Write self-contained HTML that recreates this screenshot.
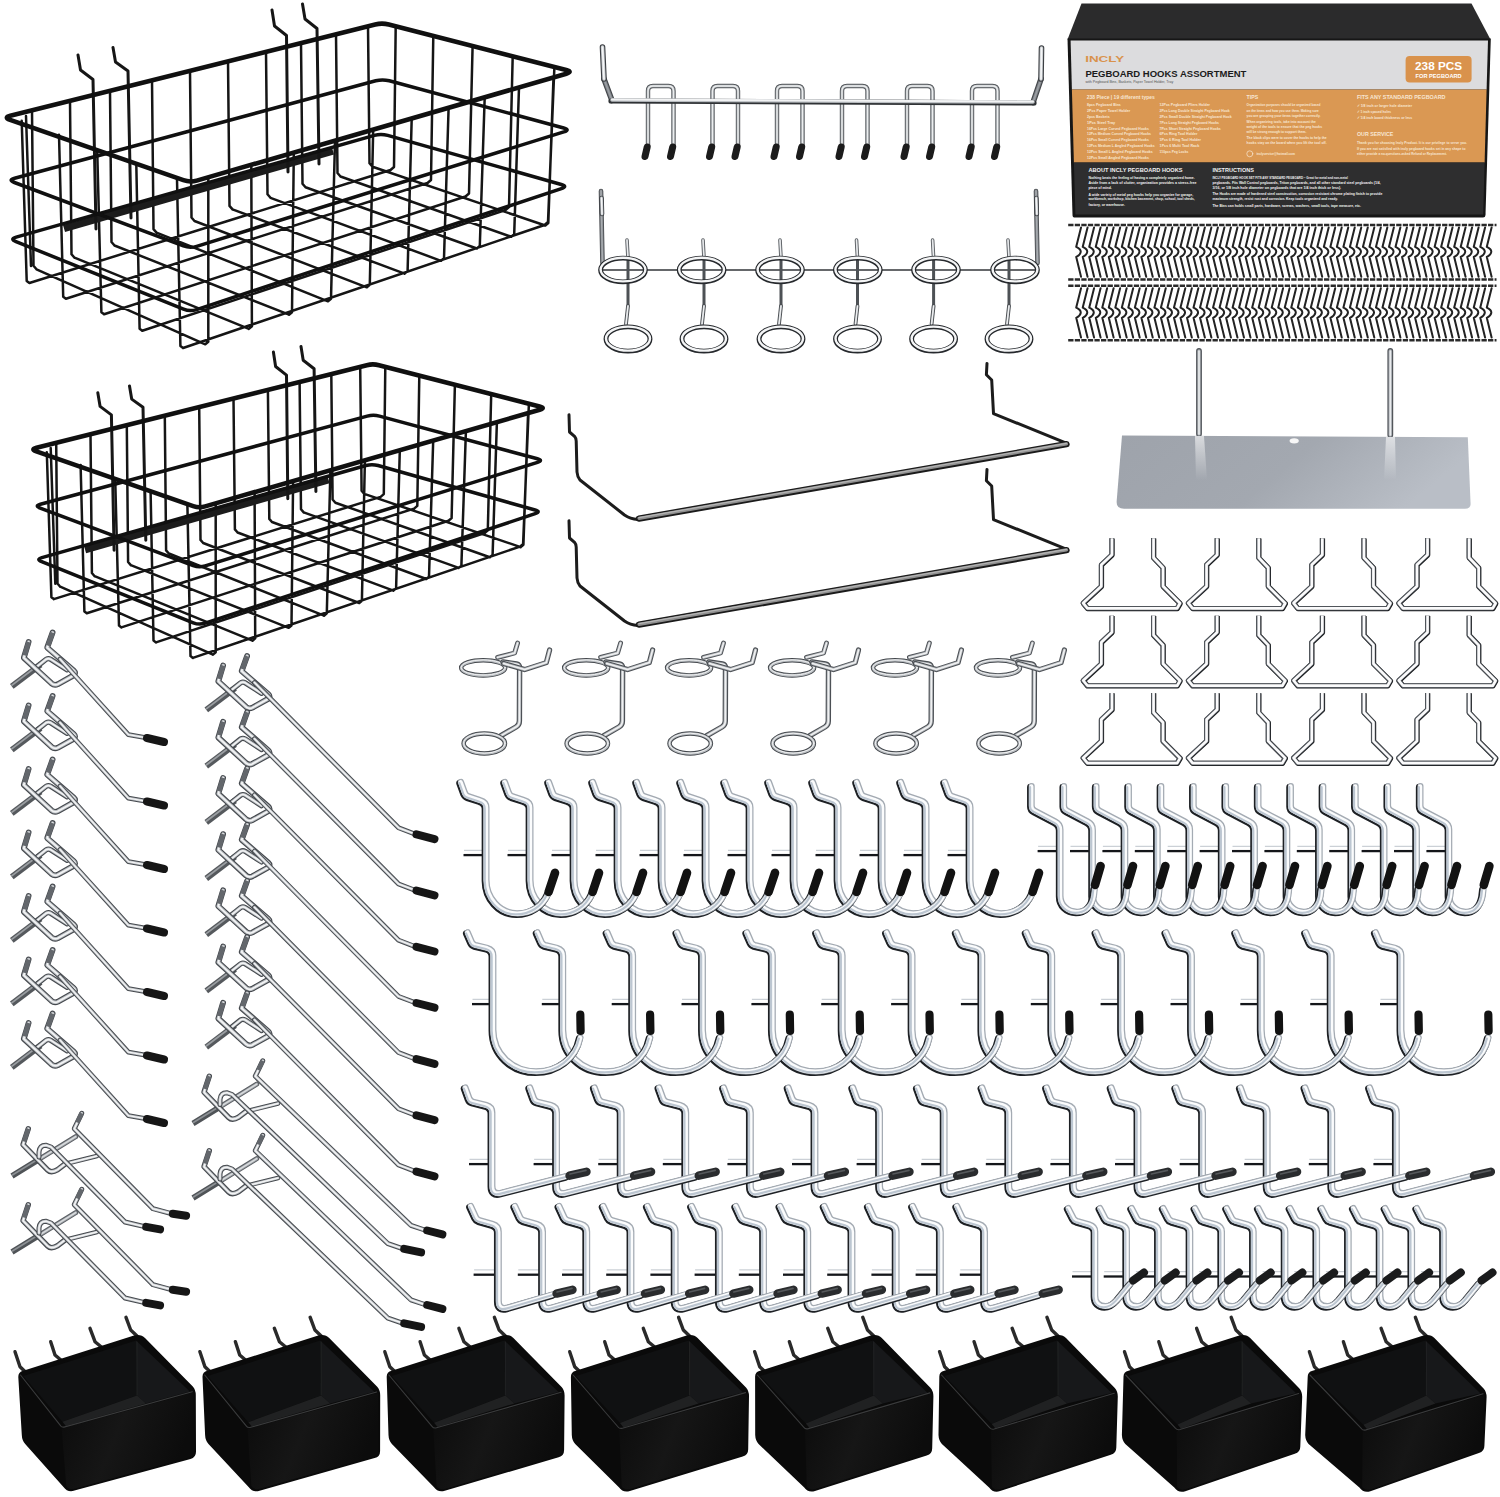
<!DOCTYPE html>
<html lang="en"><head><meta charset="utf-8"><title>Pegboard Hooks Assortment</title>
<style>html,body{margin:0;padding:0;background:#fff}svg{display:block}text{font-family:"Liberation Sans",sans-serif}</style></head>
<body>
<svg width="1500" height="1497" viewBox="0 0 1500 1497" fill="none" stroke-linecap="round" stroke-linejoin="round">
<rect width="1500" height="1497" fill="#fff"/>
<defs>
<linearGradient id="trayg" x1="0" y1="0" x2="1" y2="0.25"><stop offset="0" stop-color="#9ea3ab"/><stop offset="0.55" stop-color="#a3a8b0"/><stop offset="1" stop-color="#b9bec6"/></linearGradient>
<linearGradient id="glow" x1="0" y1="0" x2="0" y2="1"><stop offset="0" stop-color="#fff" stop-opacity="0.6"/><stop offset="1" stop-color="#fff" stop-opacity="0"/></linearGradient>
<g id="plier" stroke-linecap="butt"><path d="M1112.1 538.5 L1112.1 555.1 L1101.5 565.1 L1101.5 586.6 L1083.3 603.4 L1087.6 608.6 L1177.3 608.6 L1180.2 603.6 L1163.2 586.6 L1163.2 568 L1153.7 558 L1153.7 538.5" stroke="#15171a" stroke-width="5.2"/><path d="M1112.1 538.5 L1112.1 555.1 L1101.5 565.1 L1101.5 586.6 L1083.3 603.4 L1087.6 608.6 L1177.3 608.6 L1180.2 603.6 L1163.2 586.6 L1163.2 568 L1153.7 558 L1153.7 538.5" stroke="#50555b" stroke-width="4.6" transform="translate(-0.4,-0.4)"/><path d="M1112.1 538.5 L1112.1 555.1 L1101.5 565.1 L1101.5 586.6 L1083.3 603.4 L1087.6 608.6 L1177.3 608.6 L1180.2 603.6 L1163.2 586.6 L1163.2 568 L1153.7 558 L1153.7 538.5" stroke="#fbfbfc" stroke-width="2.7" transform="translate(-0.15,-0.3)"/></g>
<g id="ringh"><path d="M497.6 657.4 L514.6 653 L517.6 643" stroke="#4b4f54" stroke-width="4.8" /><path d="M497.6 657.4 L514.6 653 L517.6 643" stroke="#b0b4b8" stroke-width="2.9" /><path d="M497.6 657.4 L514.6 653 L517.6 643" stroke="#f0f1f2" stroke-width="1.4" /><ellipse cx="483.2" cy="667.8" rx="22" ry="7.6" stroke="#45494e" stroke-width="4.5"/><ellipse cx="483.2" cy="667.8" rx="22" ry="7.6" stroke="#b9bdc1" stroke-width="2.6"/><ellipse cx="483.2" cy="667.5" rx="22" ry="7.6" stroke="#f1f2f3" stroke-width="1"/><path d="M503 662 L516.5 664 Q519.6 664.6 519.6 668 L519.4 721 Q519.4 725 516 727 L501 735.6" stroke="#4b4f54" stroke-width="5.4" /><path d="M503 662 L516.5 664 Q519.6 664.6 519.6 668 L519.4 721 Q519.4 725 516 727 L501 735.6" stroke="#b0b4b8" stroke-width="3.2" /><path d="M503 662 L516.5 664 Q519.6 664.6 519.6 668 L519.4 721 Q519.4 725 516 727 L501 735.6" stroke="#f0f1f2" stroke-width="1.6" /><path d="M503.7 663.5 L524.6 669.6 L546.3 662.6 L549.6 650" stroke="#4b4f54" stroke-width="5.2" /><path d="M503.7 663.5 L524.6 669.6 L546.3 662.6 L549.6 650" stroke="#b0b4b8" stroke-width="3.1" /><path d="M503.7 663.5 L524.6 669.6 L546.3 662.6 L549.6 650" stroke="#f0f1f2" stroke-width="1.6" /><ellipse cx="484.3" cy="743.5" rx="20.7" ry="10" stroke="#45494e" stroke-width="4.5"/><ellipse cx="484.3" cy="743.5" rx="20.7" ry="10" stroke="#b9bdc1" stroke-width="2.6"/><ellipse cx="484.3" cy="743.2" rx="20.7" ry="10" stroke="#f1f2f3" stroke-width="1"/></g>
<g id="brk"><path d="M40.6 664.6 L11.8 686.4" stroke="#55595d" stroke-width="6" stroke-linecap="butt"/><path d="M40.2 663.8 L11.4 685.6" stroke="#9a9ea2" stroke-width="1.8" stroke-linecap="butt"/><path d="M37.2 666.4 L46.2 659.2 Q48.5 658 50.6 659.2 L67 669.8" stroke="#45494e" stroke-width="5.2" /><path d="M37.2 666.4 L46.2 659.2 Q48.5 658 50.6 659.2 L67 669.8" stroke="#b9bdc1" stroke-width="3.1" /><path d="M37.2 666.4 L46.2 659.2 Q48.5 658 50.6 659.2 L67 669.8" stroke="#f3f4f5" stroke-width="1.6" /><path d="M28.6 642 L23.8 657.8 L51.6 683.4 Q54.5 685.8 57.8 684.2 L73.6 675.4 Q76.5 673 73.8 670.6 L47.2 647.6 L52.6 632.6" stroke="#45494e" stroke-width="5.8" /><path d="M28.6 642 L23.8 657.8 L51.6 683.4 Q54.5 685.8 57.8 684.2 L73.6 675.4 Q76.5 673 73.8 670.6 L47.2 647.6 L52.6 632.6" stroke="#b9bdc1" stroke-width="3.5" /><path d="M28.6 642 L23.8 657.8 L51.6 683.4 Q54.5 685.8 57.8 684.2 L73.6 675.4 Q76.5 673 73.8 670.6 L47.2 647.6 L52.6 632.6" stroke="#f3f4f5" stroke-width="1.7" /><path d="M28.6 642 L24.6 655.4" stroke="#63676c" stroke-width="4.8" stroke-linecap="butt"/><path d="M52.6 632.6 L48 645.6" stroke="#63676c" stroke-width="4.8" stroke-linecap="butt"/></g>
<g id="hs"><use href="#brk"/><path d="M60 659 L128.4 734.6 L144 737.4" stroke="#45494e" stroke-width="4.8" /><path d="M60 659 L128.4 734.6 L144 737.4" stroke="#b9bdc1" stroke-width="2.9" /><path d="M60 659 L128.4 734.6 L144 737.4" stroke="#f3f4f5" stroke-width="1.4" /><path d="M147 738 L164 742" stroke="#161616" stroke-width="8"/></g>
<g id="hl"><use href="#brk" x="194.5" y="22"/><path d="M254.5 681 L398.6 826.3 L413.5 832" stroke="#45494e" stroke-width="4.8" /><path d="M254.5 681 L398.6 826.3 L413.5 832" stroke="#b9bdc1" stroke-width="2.9" /><path d="M254.5 681 L398.6 826.3 L413.5 832" stroke="#f3f4f5" stroke-width="1.4" /><path d="M416.5 832.9 L434.5 837.6" stroke="#161616" stroke-width="8"/></g>
<g id="ds"><path d="M36 1161.2 L75.7 1136.7" stroke="#5b5f64" stroke-width="5" /><path d="M36 1161.2 L75.7 1136.7" stroke="#9fa3a8" stroke-width="3" /><path d="M36 1161.2 L75.7 1136.7" stroke="#d9dcde" stroke-width="1.5" /><path d="M12 1176 L38 1160" stroke="#4f5357" stroke-width="5.8" stroke-linecap="butt"/><path d="M12 1175.2 L38 1159.2" stroke="#8c9094" stroke-width="1.6" stroke-linecap="butt"/><path d="M67.7 1163.3 L97 1156" stroke="#45494e" stroke-width="4.6" /><path d="M67.7 1163.3 L97 1156" stroke="#b9bdc1" stroke-width="2.8" /><path d="M67.7 1163.3 L97 1156" stroke="#f3f4f5" stroke-width="1.4" /><path d="M28.3 1128.7 L23 1144.7 L47.7 1170 Q51.2 1173.5 57.7 1169.6 L65 1164" stroke="#45494e" stroke-width="5.4" /><path d="M28.3 1128.7 L23 1144.7 L47.7 1170 Q51.2 1173.5 57.7 1169.6 L65 1164" stroke="#b9bdc1" stroke-width="3.2" /><path d="M28.3 1128.7 L23 1144.7 L47.7 1170 Q51.2 1173.5 57.7 1169.6 L65 1164" stroke="#f3f4f5" stroke-width="1.6" /><path d="M28.3 1128.7 L24 1141.5" stroke="#63676c" stroke-width="4.6" stroke-linecap="butt"/><path d="M39 1157 L39 1152 Q39.7 1145 46.3 1145.3 L51 1147 L125 1222 L143.7 1226.4" stroke="#45494e" stroke-width="5" /><path d="M39 1157 L39 1152 Q39.7 1145 46.3 1145.3 L51 1147 L125 1222 L143.7 1226.4" stroke="#b9bdc1" stroke-width="3" /><path d="M39 1157 L39 1152 Q39.7 1145 46.3 1145.3 L51 1147 L125 1222 L143.7 1226.4" stroke="#f3f4f5" stroke-width="1.5" /><path d="M146.2 1226.9 L160.1 1229.4" stroke="#161616" stroke-width="8"/><path d="M81.7 1113.3 L74.3 1128.7 L153 1208.7 L170.3 1213.3" stroke="#45494e" stroke-width="5" /><path d="M81.7 1113.3 L74.3 1128.7 L153 1208.7 L170.3 1213.3" stroke="#b9bdc1" stroke-width="3" /><path d="M81.7 1113.3 L74.3 1128.7 L153 1208.7 L170.3 1213.3" stroke="#f3f4f5" stroke-width="1.5" /><path d="M81.7 1113.3 L77.3 1122.5" stroke="#63676c" stroke-width="4.4" stroke-linecap="butt"/><path d="M172.8 1213.8 L186.1 1215.7" stroke="#161616" stroke-width="8"/></g>
<g id="dl"><path d="M217 1108.7 L256.7 1084.2" stroke="#5b5f64" stroke-width="5" /><path d="M217 1108.7 L256.7 1084.2" stroke="#9fa3a8" stroke-width="3" /><path d="M217 1108.7 L256.7 1084.2" stroke="#d9dcde" stroke-width="1.5" /><path d="M193 1123.5 L219 1107.5" stroke="#4f5357" stroke-width="5.8" stroke-linecap="butt"/><path d="M193 1122.7 L219 1106.7" stroke="#8c9094" stroke-width="1.6" stroke-linecap="butt"/><path d="M248.7 1110.8 L278 1103.5" stroke="#45494e" stroke-width="4.6" /><path d="M248.7 1110.8 L278 1103.5" stroke="#b9bdc1" stroke-width="2.8" /><path d="M248.7 1110.8 L278 1103.5" stroke="#f3f4f5" stroke-width="1.4" /><path d="M209.3 1076.2 L204 1092.2 L228.7 1117.5 Q232.2 1121 238.7 1117.1 L246 1111.5" stroke="#45494e" stroke-width="5.4" /><path d="M209.3 1076.2 L204 1092.2 L228.7 1117.5 Q232.2 1121 238.7 1117.1 L246 1111.5" stroke="#b9bdc1" stroke-width="3.2" /><path d="M209.3 1076.2 L204 1092.2 L228.7 1117.5 Q232.2 1121 238.7 1117.1 L246 1111.5" stroke="#f3f4f5" stroke-width="1.6" /><path d="M209.3 1076.2 L205 1089" stroke="#63676c" stroke-width="4.6" stroke-linecap="butt"/><path d="M220 1104.5 L220 1099.5 Q220.7 1092.5 227.3 1092.8 L232 1094.5 L388 1243.7 L401.7 1248.3" stroke="#45494e" stroke-width="5" /><path d="M220 1104.5 L220 1099.5 Q220.7 1092.5 227.3 1092.8 L232 1094.5 L388 1243.7 L401.7 1248.3" stroke="#b9bdc1" stroke-width="3" /><path d="M220 1104.5 L220 1099.5 Q220.7 1092.5 227.3 1092.8 L232 1094.5 L388 1243.7 L401.7 1248.3" stroke="#f3f4f5" stroke-width="1.5" /><path d="M404.2 1248.8 L421.1 1252.4" stroke="#161616" stroke-width="8"/><path d="M262.7 1060.8 L255.3 1076.2 L410.9 1225.3 L424.7 1230" stroke="#45494e" stroke-width="5" /><path d="M262.7 1060.8 L255.3 1076.2 L410.9 1225.3 L424.7 1230" stroke="#b9bdc1" stroke-width="3" /><path d="M262.7 1060.8 L255.3 1076.2 L410.9 1225.3 L424.7 1230" stroke="#f3f4f5" stroke-width="1.5" /><path d="M262.7 1060.8 L258.3 1070" stroke="#63676c" stroke-width="4.4" stroke-linecap="butt"/><path d="M427.2 1230.5 L442.4 1234.4" stroke="#161616" stroke-width="8"/></g>
<g id="mc"><path d="M463.5 855.1 L483 855.1" stroke="#14161a" stroke-width="2.3" stroke-linecap="butt"/><path d="M464 850.3 L483 850.3" stroke="#bfc5cc" stroke-width="1" stroke-linecap="butt"/><path d="M460.5 782.5 L464.5 793.5 Q465.5 796 468 796.8 L480 800.8 Q485.9 802.5 485.9 808 L485.9 880.2 C485.9 898 499 913.8 517.1 913.8 C531 913.8 543 906 548.2 893.4" stroke="#1d2024" stroke-width="7.1" transform="translate(-0.7,0.7)"/><path d="M460.5 782.5 L464.5 793.5 Q465.5 796 468 796.8 L480 800.8 Q485.9 802.5 485.9 808 L485.9 880.2 C485.9 898 499 913.8 517.1 913.8 C531 913.8 543 906 548.2 893.4" stroke="#a4abb3" stroke-width="6.2" transform="translate(0.5,-0.5)"/><path d="M460.5 782.5 L464.5 793.5 Q465.5 796 468 796.8 L480 800.8 Q485.9 802.5 485.9 808 L485.9 880.2 C485.9 898 499 913.8 517.1 913.8 C531 913.8 543 906 548.2 893.4" stroke="#fbfcfd" stroke-width="4.5" transform="translate(0.1,-0.1)"/><path d="M460.5 782.5 L464.5 793.5 Q465.5 796 468 796.8 L480 800.8 Q485.9 802.5 485.9 808 L485.9 880.2 C485.9 898 499 913.8 517.1 913.8 C531 913.8 543 906 548.2 893.4" stroke="#bcc6d1" stroke-width="2.2" transform="translate(-1.15,0.65)"/><path d="M548.6 892 L555 872.8" stroke="#121212" stroke-width="8.6"/></g>
<g id="sc"><path d="M1037.6 851.1 L1057.5 851.1" stroke="#14161a" stroke-width="2.3" stroke-linecap="butt"/><path d="M1038.1 846.3 L1057.5 846.3" stroke="#bfc5cc" stroke-width="1" stroke-linecap="butt"/><path d="M1031.2 786.5 L1031.2 806 Q1031.2 809.5 1034.5 811.2 L1055 822 Q1060 824.5 1060 830 L1060 896 C1060 905 1067 912.2 1076.6 912.2 C1086 912.2 1091.8 906 1093.6 896 L1094.4 889" stroke="#1d2024" stroke-width="6.9" transform="translate(-0.7,0.7)"/><path d="M1031.2 786.5 L1031.2 806 Q1031.2 809.5 1034.5 811.2 L1055 822 Q1060 824.5 1060 830 L1060 896 C1060 905 1067 912.2 1076.6 912.2 C1086 912.2 1091.8 906 1093.6 896 L1094.4 889" stroke="#a4abb3" stroke-width="6" transform="translate(0.5,-0.5)"/><path d="M1031.2 786.5 L1031.2 806 Q1031.2 809.5 1034.5 811.2 L1055 822 Q1060 824.5 1060 830 L1060 896 C1060 905 1067 912.2 1076.6 912.2 C1086 912.2 1091.8 906 1093.6 896 L1094.4 889" stroke="#fbfcfd" stroke-width="4.3" transform="translate(0.1,-0.1)"/><path d="M1031.2 786.5 L1031.2 806 Q1031.2 809.5 1034.5 811.2 L1055 822 Q1060 824.5 1060 830 L1060 896 C1060 905 1067 912.2 1076.6 912.2 C1086 912.2 1091.8 906 1093.6 896 L1094.4 889" stroke="#bcc6d1" stroke-width="2.2" transform="translate(-1.15,0.65)"/><path d="M1095 885 L1100.6 866" stroke="#121212" stroke-width="8.6"/></g>
<g id="lc"><path d="M472 1004.1 L490 1004.1" stroke="#14161a" stroke-width="2.3" stroke-linecap="butt"/><path d="M472.5 999.3 L490 999.3" stroke="#bfc5cc" stroke-width="1" stroke-linecap="butt"/><path d="M467.2 932.8 L471.4 942.5 Q472.4 944.8 475 945.5 L487 948.4 Q492.8 950 492.8 956 L492.8 1030 C492.8 1054 512 1071.8 536 1071.8 C558 1071.8 576 1058 580 1038" stroke="#1d2024" stroke-width="7.1" transform="translate(-0.7,0.7)"/><path d="M467.2 932.8 L471.4 942.5 Q472.4 944.8 475 945.5 L487 948.4 Q492.8 950 492.8 956 L492.8 1030 C492.8 1054 512 1071.8 536 1071.8 C558 1071.8 576 1058 580 1038" stroke="#a4abb3" stroke-width="6.2" transform="translate(0.5,-0.5)"/><path d="M467.2 932.8 L471.4 942.5 Q472.4 944.8 475 945.5 L487 948.4 Q492.8 950 492.8 956 L492.8 1030 C492.8 1054 512 1071.8 536 1071.8 C558 1071.8 576 1058 580 1038" stroke="#fbfcfd" stroke-width="4.5" transform="translate(0.1,-0.1)"/><path d="M467.2 932.8 L471.4 942.5 Q472.4 944.8 475 945.5 L487 948.4 Q492.8 950 492.8 956 L492.8 1030 C492.8 1054 512 1071.8 536 1071.8 C558 1071.8 576 1058 580 1038" stroke="#bcc6d1" stroke-width="2.2" transform="translate(-1.15,0.65)"/><path d="M580.6 1031 L580.3 1014.5" stroke="#121212" stroke-width="8.2"/></g>
<g id="lm"><path d="M469 1164.1 L489 1164.1" stroke="#14161a" stroke-width="2.3" stroke-linecap="butt"/><path d="M469.5 1159.3 L489 1159.3" stroke="#bfc5cc" stroke-width="1" stroke-linecap="butt"/><path d="M465 1088 L469 1099 Q470 1101.5 472.6 1102.2 L486 1105.6 Q491.8 1107.2 491.8 1113 L491.8 1186 Q491.8 1195.5 501 1193.2 L566 1176.6" stroke="#1d2024" stroke-width="7.1" transform="translate(-0.7,0.7)"/><path d="M465 1088 L469 1099 Q470 1101.5 472.6 1102.2 L486 1105.6 Q491.8 1107.2 491.8 1113 L491.8 1186 Q491.8 1195.5 501 1193.2 L566 1176.6" stroke="#a4abb3" stroke-width="6.2" transform="translate(0.5,-0.5)"/><path d="M465 1088 L469 1099 Q470 1101.5 472.6 1102.2 L486 1105.6 Q491.8 1107.2 491.8 1113 L491.8 1186 Q491.8 1195.5 501 1193.2 L566 1176.6" stroke="#fbfcfd" stroke-width="4.5" transform="translate(0.1,-0.1)"/><path d="M465 1088 L469 1099 Q470 1101.5 472.6 1102.2 L486 1105.6 Q491.8 1107.2 491.8 1113 L491.8 1186 Q491.8 1195.5 501 1193.2 L566 1176.6" stroke="#bcc6d1" stroke-width="2.2" transform="translate(-1.15,0.65)"/><path d="M569.5 1175.7 L586.5 1171.8" stroke="#2a2c2e" stroke-width="8.4"/><path d="M570 1174 L586 1170.4" stroke="#55585b" stroke-width="1.6"/></g>
<g id="ls"><path d="M473.6 1274.7 L495 1274.7" stroke="#14161a" stroke-width="2.3" stroke-linecap="butt"/><path d="M474.1 1269.9 L495 1269.9" stroke="#bfc5cc" stroke-width="1" stroke-linecap="butt"/><path d="M470.4 1206.5 L475.6 1217.8 Q476.6 1220 479.2 1220.8 L492.4 1224.6 Q498.2 1226.4 498.2 1232 L498.2 1301 Q498.2 1310.5 507.4 1308 L553 1294.6" stroke="#1d2024" stroke-width="7.1" transform="translate(-0.7,0.7)"/><path d="M470.4 1206.5 L475.6 1217.8 Q476.6 1220 479.2 1220.8 L492.4 1224.6 Q498.2 1226.4 498.2 1232 L498.2 1301 Q498.2 1310.5 507.4 1308 L553 1294.6" stroke="#a4abb3" stroke-width="6.2" transform="translate(0.5,-0.5)"/><path d="M470.4 1206.5 L475.6 1217.8 Q476.6 1220 479.2 1220.8 L492.4 1224.6 Q498.2 1226.4 498.2 1232 L498.2 1301 Q498.2 1310.5 507.4 1308 L553 1294.6" stroke="#fbfcfd" stroke-width="4.5" transform="translate(0.1,-0.1)"/><path d="M470.4 1206.5 L475.6 1217.8 Q476.6 1220 479.2 1220.8 L492.4 1224.6 Q498.2 1226.4 498.2 1232 L498.2 1301 Q498.2 1310.5 507.4 1308 L553 1294.6" stroke="#bcc6d1" stroke-width="2.2" transform="translate(-1.15,0.65)"/><path d="M556.5 1293.6 L572.5 1289.8" stroke="#2a2c2e" stroke-width="8.4"/><path d="M557 1292 L572 1288.4" stroke="#55585b" stroke-width="1.6"/></g>
<g id="sa"><path d="M1072 1276.5 L1093 1276.5" stroke="#14161a" stroke-width="2.3" stroke-linecap="butt"/><path d="M1072.5 1271.7 L1093 1271.7" stroke="#bfc5cc" stroke-width="1" stroke-linecap="butt"/><path d="M1068 1208.5 L1073.2 1218.6 Q1074.2 1220.6 1076.6 1221.4 L1089 1225 Q1094.8 1226.8 1094.8 1232 L1094.8 1296 C1094.8 1303 1099 1306.6 1105 1306.6 C1110.5 1306.6 1113.5 1304 1117 1300 L1130.5 1283.6" stroke="#1d2024" stroke-width="6.9" transform="translate(-0.7,0.7)"/><path d="M1068 1208.5 L1073.2 1218.6 Q1074.2 1220.6 1076.6 1221.4 L1089 1225 Q1094.8 1226.8 1094.8 1232 L1094.8 1296 C1094.8 1303 1099 1306.6 1105 1306.6 C1110.5 1306.6 1113.5 1304 1117 1300 L1130.5 1283.6" stroke="#a4abb3" stroke-width="6" transform="translate(0.5,-0.5)"/><path d="M1068 1208.5 L1073.2 1218.6 Q1074.2 1220.6 1076.6 1221.4 L1089 1225 Q1094.8 1226.8 1094.8 1232 L1094.8 1296 C1094.8 1303 1099 1306.6 1105 1306.6 C1110.5 1306.6 1113.5 1304 1117 1300 L1130.5 1283.6" stroke="#fbfcfd" stroke-width="4.3" transform="translate(0.1,-0.1)"/><path d="M1068 1208.5 L1073.2 1218.6 Q1074.2 1220.6 1076.6 1221.4 L1089 1225 Q1094.8 1226.8 1094.8 1232 L1094.8 1296 C1094.8 1303 1099 1306.6 1105 1306.6 C1110.5 1306.6 1113.5 1304 1117 1300 L1130.5 1283.6" stroke="#bcc6d1" stroke-width="2.2" transform="translate(-1.15,0.65)"/><path d="M1133 1280.6 L1144 1272.6" stroke="#1a1b1c" stroke-width="8"/></g>
<linearGradient id="binf" x1="0" y1="0" x2="1" y2="0.3"><stop offset="0" stop-color="#0b0b0b"/><stop offset="0.5" stop-color="#161616"/><stop offset="1" stop-color="#0c0c0c"/></linearGradient>
</defs>
<g><path d="M32 110.4 L33.5 265.8 L36.5 269.3 M70 100.9 L71.5 254.2 L74.5 257.7 M110 90.9 L111.5 242 L114.5 245.5 M152 80.3 L153.5 229.1 L156.5 232.6 M190 70.8 L191.5 217.5 L194.5 221 M228 61.3 L229.5 205.9 L232.5 209.4 M266 51.8 L267.5 194.3 L270.5 197.8 M301 43.1 L302.5 183.7 L305.5 187.2 M336 34.3 L337.5 173 L340.5 176.5 M368 26.3 L369.5 163.2 L372.5 166.7 M395.7 26.3 L394 167 L390.5 170 M433.3 36 L431 180 L427.5 183 M472.6 46 L469 193.5 L465.5 196.5 M512.7 56.3 L509 207 L505.5 210 M554.4 67 L548 222 L544.5 225 M29.4 283 L390.5 170 M65.9 298.7 L427.5 183 M104.1 314.3 L465.5 196.5 M142.3 330.8 L505.5 210 M183.1 348 L544.5 225 M205.3 344.3 L36.5 269.3 M248.9 328.9 L74.5 257.7 M289 314.7 L114.5 245.5 M328 301.3 L156.5 232.6 M366.8 287.3 L194.5 221 M404.6 273.6 L232.5 209.4 M441 260.8 L270.5 197.8 M476.8 248.5 L305.5 187.2 M511.2 236.8 L340.5 176.5 M545.3 225.5 L372.5 166.7 M21.7 120.8 L26.7 281 L29.4 283 M59 134.7 L63.2 296.7 L65.9 298.7 M97.2 150.3 L101.4 312.3 L104.1 314.3 M136.3 164.2 L139.6 328.8 L142.3 330.8 M177 179 L180.4 346 L183.1 348 M208.3 177.2 L208.3 341.8 L205.3 344.3 M251.3 164.8 L251.9 326.4 L248.9 328.9 M293.8 152.5 L292 312.2 L289 314.7 M335 140.6 L331 298.8 L328 301.3 M373.2 129.5 L369.8 284.8 L366.8 287.3 M411.7 118.4 L407.6 271.1 L404.6 273.6 M448.6 107.8 L444 258.3 L441 260.8 M484.7 97.3 L479.8 246 L476.8 248.5 M519 87.4 L514.2 234.3 L511.2 236.8 M553.5 77.4 L548.3 223 L545.3 225.5 M26 116 L31 266" stroke="#151515" stroke-width="2.5" fill="none" stroke-linejoin="round"/><path d="M64 228.5 L333 151" stroke="#1c1c1c" stroke-width="7.4" fill="none" stroke-linecap="butt"/><path d="M78 55 L80.5 70 L93 79.5 L96 229 M113 47.5 L115.5 62 L128 71 L131 218 M272 10 L274.5 26 L286.5 35.5 L288 172 M302.5 4 L305 19 L317 28.5 L319 164" stroke="#161616" stroke-width="3" fill="none" stroke-linejoin="round" stroke-linecap="round"/><path d="M16 241.6 Q9.5 239 16.2 237.1L374.3 135.4 Q381 133.5 387.7 135.4L561.3 184.5 Q568 186.4 561.4 188.6L196.6 309.6 Q190 311.8 183.5 309.2Z" stroke="#101010" stroke-width="3.5" fill="none" stroke-linejoin="round"/><path d="M14.4 182.5 Q7.8 180 14.6 178.2L375.7 80.8 Q382.5 79 389.3 80.8L563.7 128 Q570.5 129.8 563.8 131.9L196.7 246.3 Q190 248.4 183.4 245.9Z" stroke="#101010" stroke-width="3.5" fill="none" stroke-linejoin="round"/><path d="M10.1 119.8 Q3.5 117.5 10.3 115.8L375.2 24.5 Q382 22.8 388.8 24.5L566.2 70.1 Q573 71.8 566.3 73.7L196.7 180.6 Q190 182.5 183.4 180.2Z" stroke="#101010" stroke-width="4.6" fill="none" stroke-linejoin="round"/></g>
<g><path d="M56.2 442.9 L57.5 583.5 L60.2 586.7 M90.5 434.3 L91.9 573 L94.6 576.2 M126.8 425.2 L128.1 562 L130.8 565.1 M164.8 415.7 L166.1 550.4 L168.8 553.5 M199.2 407.1 L200.5 539.9 L203.2 543 M233.5 398.5 L234.9 529.4 L237.6 532.5 M267.9 389.9 L269.3 518.9 L272 522 M299.6 382 L301 509.2 L303.7 512.4 M331.3 374 L332.6 499.5 L335.4 502.7 M360.2 366.8 L361.6 490.7 L364.3 493.9 M385.3 366.8 L383.8 494.1 L380.6 496.9 M419.3 375.5 L417.3 505.9 L414.1 508.6 M454.9 384.7 L451.6 518.1 L448.5 520.8 M491.2 394 L487.8 530.3 L484.7 533 M528.9 403.7 L523.1 543.9 L520 546.6 M53.8 599.1 L380.6 496.9 M86.8 613.3 L414.1 508.6 M121.4 627.4 L448.5 520.8 M156 642.4 L484.7 533 M192.9 657.9 L520 546.6 M213 654.6 L60.2 586.7 M252.5 640.7 L94.6 576.2 M288.7 627.8 L130.8 565.1 M324 615.7 L168.8 553.5 M359.2 603 L203.2 543 M393.4 590.6 L237.6 532.5 M426.3 579 L272 522 M458.7 567.9 L303.7 512.4 M489.8 557.3 L335.4 502.7 M520.7 547.1 L364.3 493.9 M46.8 452.3 L51.4 597.3 L53.8 599.1 M80.6 464.9 L84.4 611.5 L86.8 613.3 M115.2 479 L119 625.6 L121.4 627.4 M150.6 491.6 L153.5 640.6 L156 642.4 M187.4 505 L190.5 656.1 L192.9 657.9 M215.7 503.4 L215.7 652.3 L213 654.6 M254.6 492.1 L255.2 638.4 L252.5 640.7 M293.1 481 L291.5 625.5 L288.7 627.8 M330.4 470.2 L326.8 613.4 L324 615.7 M364.9 460.2 L361.9 600.7 L359.2 603 M399.8 450.2 L396.1 588.3 L393.4 590.6 M433.2 440.5 L429 576.8 L426.3 579 M465.9 431.1 L461.4 565.6 L458.7 567.9 M496.9 422.1 L492.6 555 L489.8 557.3 M528.1 413.1 L523.4 544.8 L520.7 547.1 M50.7 448 L55.3 583.7" stroke="#151515" stroke-width="2.5" fill="none" stroke-linejoin="round"/><path d="M85.1 549.8 L328.6 479.7" stroke="#1c1c1c" stroke-width="7.4" fill="none" stroke-linecap="butt"/><path d="M97.8 392.8 L100.1 406.4 L111.4 414.9 L114.1 550.2 M129.5 386 L131.7 399.1 L143 407.3 L145.8 540.3 M273.4 352.1 L275.6 366.5 L286.5 375.1 L287.8 498.7 M301 346.6 L303.2 360.2 L314.1 368.8 L315.9 491.4" stroke="#161616" stroke-width="3" fill="none" stroke-linejoin="round" stroke-linecap="round"/><path d="M41.7 561.7 Q35.8 559.3 41.9 557.6L365.9 465.5 Q372 463.8 378.1 465.5L535.1 510 Q541.2 511.7 535.2 513.7L205.2 623.2 Q199.2 625.2 193.3 622.8Z" stroke="#101010" stroke-width="3.5" fill="none" stroke-linejoin="round"/><path d="M40.2 508.1 Q34.3 505.9 40.4 504.3L367.2 416.1 Q373.4 414.5 379.5 416.1L537.4 458.8 Q543.5 460.5 537.5 462.4L205.2 565.9 Q199.2 567.8 193.2 565.6Z" stroke="#101010" stroke-width="3.5" fill="none" stroke-linejoin="round"/><path d="M36.3 451.4 Q30.4 449.3 36.5 447.8L366.8 365.2 Q372.9 363.6 379 365.2L539.6 406.4 Q545.8 408 539.7 409.7L205.2 506.4 Q199.2 508.2 193.2 506.1Z" stroke="#101010" stroke-width="4.6" fill="none" stroke-linejoin="round"/></g>
<g><path d="M648 146 L648 91 Q648 86 653 86 L668.5 86 Q673.5 86 673.5 91 L673.5 146" stroke="#54585c" stroke-width="4.4" /><path d="M648 146 L648 91 Q648 86 653 86 L668.5 86 Q673.5 86 673.5 91 L673.5 146" stroke="#aeb2b6" stroke-width="2.6" /><path d="M648 146 L648 91 Q648 86 653 86 L668.5 86 Q673.5 86 673.5 91 L673.5 146" stroke="#eceeef" stroke-width="1.3" /><path d="M712.5 146 L712.5 91 Q712.5 86 717.5 86 L733 86 Q738 86 738 91 L738 146" stroke="#54585c" stroke-width="4.4" /><path d="M712.5 146 L712.5 91 Q712.5 86 717.5 86 L733 86 Q738 86 738 91 L738 146" stroke="#aeb2b6" stroke-width="2.6" /><path d="M712.5 146 L712.5 91 Q712.5 86 717.5 86 L733 86 Q738 86 738 91 L738 146" stroke="#eceeef" stroke-width="1.3" /><path d="M777 146 L777 91 Q777 86 782 86 L797.5 86 Q802.5 86 802.5 91 L802.5 146" stroke="#54585c" stroke-width="4.4" /><path d="M777 146 L777 91 Q777 86 782 86 L797.5 86 Q802.5 86 802.5 91 L802.5 146" stroke="#aeb2b6" stroke-width="2.6" /><path d="M777 146 L777 91 Q777 86 782 86 L797.5 86 Q802.5 86 802.5 91 L802.5 146" stroke="#eceeef" stroke-width="1.3" /><path d="M842 146 L842 91 Q842 86 847 86 L862.5 86 Q867.5 86 867.5 91 L867.5 146" stroke="#54585c" stroke-width="4.4" /><path d="M842 146 L842 91 Q842 86 847 86 L862.5 86 Q867.5 86 867.5 91 L867.5 146" stroke="#aeb2b6" stroke-width="2.6" /><path d="M842 146 L842 91 Q842 86 847 86 L862.5 86 Q867.5 86 867.5 91 L867.5 146" stroke="#eceeef" stroke-width="1.3" /><path d="M907 146 L907 91 Q907 86 912 86 L927.5 86 Q932.5 86 932.5 91 L932.5 146" stroke="#54585c" stroke-width="4.4" /><path d="M907 146 L907 91 Q907 86 912 86 L927.5 86 Q932.5 86 932.5 91 L932.5 146" stroke="#aeb2b6" stroke-width="2.6" /><path d="M907 146 L907 91 Q907 86 912 86 L927.5 86 Q932.5 86 932.5 91 L932.5 146" stroke="#eceeef" stroke-width="1.3" /><path d="M972 146 L972 91 Q972 86 977 86 L992.5 86 Q997.5 86 997.5 91 L997.5 146" stroke="#54585c" stroke-width="4.4" /><path d="M972 146 L972 91 Q972 86 977 86 L992.5 86 Q997.5 86 997.5 91 L997.5 146" stroke="#aeb2b6" stroke-width="2.6" /><path d="M972 146 L972 91 Q972 86 977 86 L992.5 86 Q997.5 86 997.5 91 L997.5 146" stroke="#eceeef" stroke-width="1.3" /><path d="M604 79 L612 100.5" stroke="#44474b" stroke-width="5.6" /><path d="M604 79 L612 100.5" stroke="#7d8186" stroke-width="3.4" /><path d="M604 79 L612 100.5" stroke="#9a9ea3" stroke-width="1.7" /><path d="M1033 102.5 L1041 79" stroke="#44474b" stroke-width="5.6" /><path d="M1033 102.5 L1041 79" stroke="#7d8186" stroke-width="3.4" /><path d="M1033 102.5 L1041 79" stroke="#9a9ea3" stroke-width="1.7" /><path d="M602.5 47 L604 79" stroke="#3c3f43" stroke-width="5.6" /><path d="M602.5 47 L604 79" stroke="#c3c7cb" stroke-width="3.4" /><path d="M602.5 47 L604 79" stroke="#f5f6f7" stroke-width="1.7" /><path d="M1041 79 L1041.5 48" stroke="#3c3f43" stroke-width="5.6" /><path d="M1041 79 L1041.5 48" stroke="#c3c7cb" stroke-width="3.4" /><path d="M1041 79 L1041.5 48" stroke="#f5f6f7" stroke-width="1.7" /><path d="M611 101 L1034 103" stroke="#2f3235" stroke-width="5.2"/><path d="M612 100 L1033 102" stroke="#b9bdc1" stroke-width="3.6"/><path d="M612 99.6 L1033 101.6" stroke="#f2f3f4" stroke-width="2"/><path d="M647.2 147 L645 156.5" stroke="#1b1b1b" stroke-width="7"/><path d="M672.7 147 L670.5 156.5" stroke="#1b1b1b" stroke-width="7"/><path d="M711.7 147 L709.5 156.5" stroke="#1b1b1b" stroke-width="7"/><path d="M737.2 147 L735 156.5" stroke="#1b1b1b" stroke-width="7"/><path d="M776.2 147 L774 156.5" stroke="#1b1b1b" stroke-width="7"/><path d="M801.7 147 L799.5 156.5" stroke="#1b1b1b" stroke-width="7"/><path d="M841.2 147 L839 156.5" stroke="#1b1b1b" stroke-width="7"/><path d="M866.7 147 L864.5 156.5" stroke="#1b1b1b" stroke-width="7"/><path d="M906.2 147 L904 156.5" stroke="#1b1b1b" stroke-width="7"/><path d="M931.7 147 L929.5 156.5" stroke="#1b1b1b" stroke-width="7"/><path d="M971.2 147 L969 156.5" stroke="#1b1b1b" stroke-width="7"/><path d="M996.7 147 L994.5 156.5" stroke="#1b1b1b" stroke-width="7"/></g>
<g><path d="M601 191 L602.5 263" stroke="#4a4d51" stroke-width="4.6" /><path d="M601 191 L602.5 263" stroke="#85898e" stroke-width="2.8" /><path d="M601 191 L602.5 263" stroke="#a9adb1" stroke-width="1.4" /><path d="M1036 191 L1037.5 263" stroke="#4a4d51" stroke-width="4.6" /><path d="M1036 191 L1037.5 263" stroke="#85898e" stroke-width="2.8" /><path d="M1036 191 L1037.5 263" stroke="#a9adb1" stroke-width="1.4" /><path d="M601.5 198 L602 214" stroke="#3c3f43" stroke-width="4.6" /><path d="M601.5 198 L602 214" stroke="#c3c7cb" stroke-width="2.8" /><path d="M601.5 198 L602 214" stroke="#f5f6f7" stroke-width="1.4" /><path d="M1036.3 198 L1036.8 214" stroke="#3c3f43" stroke-width="4.6" /><path d="M1036.3 198 L1036.8 214" stroke="#c3c7cb" stroke-width="2.8" /><path d="M1036.3 198 L1036.8 214" stroke="#f5f6f7" stroke-width="1.4" /><path d="M603 270 L1037 270" stroke="#33363a" stroke-width="1.6"/><path d="M627 240 L628 258" stroke="#5a5e62" stroke-width="3.6" /><path d="M627 240 L628 258" stroke="#c3c7cb" stroke-width="1.8" /><path d="M627 240 L628 258" stroke="#f5f6f7" stroke-width="0.9" /><path d="M628 258 L628 306" stroke="#4d5155" stroke-width="3"/><ellipse cx="623" cy="270" rx="22.4" ry="11.9" stroke="#26292d" stroke-width="4.9"/><ellipse cx="623" cy="269.6" rx="22.4" ry="11.8" stroke="#f4f5f6" stroke-width="2.4"/><path d="M628 306 L626 324" stroke="#4a4e52" stroke-width="3.8" /><path d="M628 306 L626 324" stroke="#c3c7cb" stroke-width="2" /><path d="M628 306 L626 324" stroke="#f5f6f7" stroke-width="1" /><ellipse cx="628" cy="339" rx="22" ry="12.1" stroke="#26292d" stroke-width="4.9"/><ellipse cx="628" cy="338.6" rx="22" ry="12" stroke="#f4f5f6" stroke-width="2.4"/><path d="M703 240 L704 258" stroke="#5a5e62" stroke-width="3.6" /><path d="M703 240 L704 258" stroke="#c3c7cb" stroke-width="1.8" /><path d="M703 240 L704 258" stroke="#f5f6f7" stroke-width="0.9" /><path d="M704 258 L704 306" stroke="#4d5155" stroke-width="3"/><ellipse cx="701.6" cy="270" rx="22.4" ry="11.9" stroke="#26292d" stroke-width="4.9"/><ellipse cx="701.6" cy="269.6" rx="22.4" ry="11.8" stroke="#f4f5f6" stroke-width="2.4"/><path d="M704 306 L702 324" stroke="#4a4e52" stroke-width="3.8" /><path d="M704 306 L702 324" stroke="#c3c7cb" stroke-width="2" /><path d="M704 306 L702 324" stroke="#f5f6f7" stroke-width="1" /><ellipse cx="704" cy="339" rx="22" ry="12.1" stroke="#26292d" stroke-width="4.9"/><ellipse cx="704" cy="338.6" rx="22" ry="12" stroke="#f4f5f6" stroke-width="2.4"/><path d="M780 240 L781 258" stroke="#5a5e62" stroke-width="3.6" /><path d="M780 240 L781 258" stroke="#c3c7cb" stroke-width="1.8" /><path d="M780 240 L781 258" stroke="#f5f6f7" stroke-width="0.9" /><path d="M781 258 L781 306" stroke="#4d5155" stroke-width="3"/><ellipse cx="780" cy="270" rx="22.4" ry="11.9" stroke="#26292d" stroke-width="4.9"/><ellipse cx="780" cy="269.6" rx="22.4" ry="11.8" stroke="#f4f5f6" stroke-width="2.4"/><path d="M781 306 L779 324" stroke="#4a4e52" stroke-width="3.8" /><path d="M781 306 L779 324" stroke="#c3c7cb" stroke-width="2" /><path d="M781 306 L779 324" stroke="#f5f6f7" stroke-width="1" /><ellipse cx="781" cy="339" rx="22" ry="12.1" stroke="#26292d" stroke-width="4.9"/><ellipse cx="781" cy="338.6" rx="22" ry="12" stroke="#f4f5f6" stroke-width="2.4"/><path d="M856.5 240 L857.5 258" stroke="#5a5e62" stroke-width="3.6" /><path d="M856.5 240 L857.5 258" stroke="#c3c7cb" stroke-width="1.8" /><path d="M856.5 240 L857.5 258" stroke="#f5f6f7" stroke-width="0.9" /><path d="M857.5 258 L857.5 306" stroke="#4d5155" stroke-width="3"/><ellipse cx="857.8" cy="270" rx="22.4" ry="11.9" stroke="#26292d" stroke-width="4.9"/><ellipse cx="857.8" cy="269.6" rx="22.4" ry="11.8" stroke="#f4f5f6" stroke-width="2.4"/><path d="M857.5 306 L855.5 324" stroke="#4a4e52" stroke-width="3.8" /><path d="M857.5 306 L855.5 324" stroke="#c3c7cb" stroke-width="2" /><path d="M857.5 306 L855.5 324" stroke="#f5f6f7" stroke-width="1" /><ellipse cx="857.5" cy="339" rx="22" ry="12.1" stroke="#26292d" stroke-width="4.9"/><ellipse cx="857.5" cy="338.6" rx="22" ry="12" stroke="#f4f5f6" stroke-width="2.4"/><path d="M932.6 240 L933.6 258" stroke="#5a5e62" stroke-width="3.6" /><path d="M932.6 240 L933.6 258" stroke="#c3c7cb" stroke-width="1.8" /><path d="M932.6 240 L933.6 258" stroke="#f5f6f7" stroke-width="0.9" /><path d="M933.6 258 L933.6 306" stroke="#4d5155" stroke-width="3"/><ellipse cx="936" cy="270" rx="22.4" ry="11.9" stroke="#26292d" stroke-width="4.9"/><ellipse cx="936" cy="269.6" rx="22.4" ry="11.8" stroke="#f4f5f6" stroke-width="2.4"/><path d="M933.6 306 L931.6 324" stroke="#4a4e52" stroke-width="3.8" /><path d="M933.6 306 L931.6 324" stroke="#c3c7cb" stroke-width="2" /><path d="M933.6 306 L931.6 324" stroke="#f5f6f7" stroke-width="1" /><ellipse cx="933.6" cy="339" rx="22" ry="12.1" stroke="#26292d" stroke-width="4.9"/><ellipse cx="933.6" cy="338.6" rx="22" ry="12" stroke="#f4f5f6" stroke-width="2.4"/><path d="M1008 240 L1009 258" stroke="#5a5e62" stroke-width="3.6" /><path d="M1008 240 L1009 258" stroke="#c3c7cb" stroke-width="1.8" /><path d="M1008 240 L1009 258" stroke="#f5f6f7" stroke-width="0.9" /><path d="M1009 258 L1009 306" stroke="#4d5155" stroke-width="3"/><ellipse cx="1015" cy="270" rx="22.4" ry="11.9" stroke="#26292d" stroke-width="4.9"/><ellipse cx="1015" cy="269.6" rx="22.4" ry="11.8" stroke="#f4f5f6" stroke-width="2.4"/><path d="M1009 306 L1007 324" stroke="#4a4e52" stroke-width="3.8" /><path d="M1009 306 L1007 324" stroke="#c3c7cb" stroke-width="2" /><path d="M1009 306 L1007 324" stroke="#f5f6f7" stroke-width="1" /><ellipse cx="1009" cy="339" rx="22" ry="12.1" stroke="#26292d" stroke-width="4.9"/><ellipse cx="1009" cy="338.6" rx="22" ry="12" stroke="#f4f5f6" stroke-width="2.4"/></g>
<g><path d="M569 414.8 L569.5 432 L574.5 436.3 Q576 438 576.2 441 L577 472 Q577.4 477 580 480 L624.5 515 Q630 518.9 638 519.5 M1067.5 443.6 L993.5 413.6 L991.7 380 L986.4 374.7 L987 363.4" stroke="#1c1c1c" stroke-width="3"/><path d="M639 518.6 L1066.5 444.2" stroke="#1a1a1a" stroke-width="6.4"/><path d="M639 518.6 L1066.5 444.2" stroke="#8f8f8f" stroke-width="3.2" transform="translate(0,-0.3)"/><path d="M639 518.6 L1066.5 444.2" stroke="#b5b5b5" stroke-width="1.2" transform="translate(0,-0.9)"/><path d="M569 520.8 L569.5 538 L574.5 542.3 Q576 544 576.2 547 L577 578 Q577.4 583 580 586 L624.5 621 Q630 624.9 638 625.5 M1067.5 549.6 L993.5 519.6 L991.7 486 L986.4 480.7 L987 469.4" stroke="#1c1c1c" stroke-width="3"/><path d="M639 624.6 L1066.5 550.2" stroke="#1a1a1a" stroke-width="6.4"/><path d="M639 624.6 L1066.5 550.2" stroke="#8f8f8f" stroke-width="3.2" transform="translate(0,-0.3)"/><path d="M639 624.6 L1066.5 550.2" stroke="#b5b5b5" stroke-width="1.2" transform="translate(0,-0.9)"/></g>
<g><path d="M1081.5 3.6 L1471.5 3.6 L1490.5 39.5 L1067.5 39.5Z" fill="#2b2b2c" stroke="none"/><path d="M1067.5 38.5 L1490.8 38.5 L1485.5 215 Q1485.4 217.6 1483 217.6 L1075 217.6 Q1072.6 217.6 1072.5 215Z" fill="#161616" stroke="none"/><path d="M1070.6 40.6 L1488 40.6 L1486.6 89.4 L1071.9 89.4Z" fill="#dcdcde" stroke="none"/><path d="M1071.9 89.4 L1486.6 89.4 L1484.6 162.6 L1073.9 162.6Z" fill="#da9853" stroke="none"/><path d="M1073.9 162.6 L1484.6 162.6 L1483.2 214.5 L1075.4 214.5Z" fill="#2e2e2f" stroke="none"/><rect x="1405.6" y="56" width="66" height="26.6" rx="4" fill="#d9924c" stroke="none"/><text x="1438.6" y="70" font-size="10.6" fill="#fff" font-weight="bold" stroke="none" text-anchor="middle" textLength="47" lengthAdjust="spacingAndGlyphs">238 PCS</text><text x="1438.6" y="78.2" font-size="5.4" fill="#fff" font-weight="bold" stroke="none" text-anchor="middle" textLength="46" lengthAdjust="spacingAndGlyphs">FOR PEGBOARD</text><text x="1085.2" y="62.2" font-size="9.8" fill="#d9924c" font-weight="bold" stroke="none" textLength="39" lengthAdjust="spacingAndGlyphs">INCLY</text><text x="1085.4" y="76.7" font-size="9.4" fill="#1b1b1b" font-weight="bold" stroke="none" textLength="161" lengthAdjust="spacingAndGlyphs">PEGBOARD HOOKS ASSORTMENT</text><text x="1085.4" y="82.6" font-size="3.4" fill="#555" font-weight="normal" stroke="none" textLength="88" lengthAdjust="spacingAndGlyphs">with Pegboard Bins, Baskets, Paper Towel Holder, Tray</text><text x="1086.8" y="98.9" font-size="5" fill="#f8e6d2" font-weight="bold" stroke="none" textLength="68" lengthAdjust="spacingAndGlyphs">238 Piece | 19 different types</text><text x="1087" y="106.2" font-size="3.9" fill="#f8e6d2" font-weight="bold" stroke="none"  textLength="33.8" lengthAdjust="spacingAndGlyphs">8pcs Pegboard Bins</text><text x="1087" y="112" font-size="3.9" fill="#f8e6d2" font-weight="bold" stroke="none"  textLength="43.2" lengthAdjust="spacingAndGlyphs">2Pcs Paper Towel Holder</text><text x="1087" y="117.9" font-size="3.9" fill="#f8e6d2" font-weight="bold" stroke="none"  textLength="22.6" lengthAdjust="spacingAndGlyphs">2pcs Baskets</text><text x="1087" y="123.8" font-size="3.9" fill="#f8e6d2" font-weight="bold" stroke="none"  textLength="28.2" lengthAdjust="spacingAndGlyphs">1Pcs Steel Tray</text><text x="1087" y="129.6" font-size="3.9" fill="#f8e6d2" font-weight="bold" stroke="none"  textLength="62" lengthAdjust="spacingAndGlyphs">16Pcs Large Curved Pegboard Hooks</text><text x="1087" y="135.4" font-size="3.9" fill="#f8e6d2" font-weight="bold" stroke="none"  textLength="63.9" lengthAdjust="spacingAndGlyphs">12Pcs Medium Curved Pegboard Hooks</text><text x="1087" y="141.3" font-size="3.9" fill="#f8e6d2" font-weight="bold" stroke="none"  textLength="62" lengthAdjust="spacingAndGlyphs">16Pcs Small Curved Pegboard Hooks</text><text x="1087" y="147.2" font-size="3.9" fill="#f8e6d2" font-weight="bold" stroke="none"  textLength="67.7" lengthAdjust="spacingAndGlyphs">12Pcs Medium L Angled Pegboard Hooks</text><text x="1087" y="153" font-size="3.9" fill="#f8e6d2" font-weight="bold" stroke="none"  textLength="65.8" lengthAdjust="spacingAndGlyphs">12Pcs Small L Angled Pegboard Hooks</text><text x="1087" y="158.8" font-size="3.9" fill="#f8e6d2" font-weight="bold" stroke="none"  textLength="62" lengthAdjust="spacingAndGlyphs">12Pcs Small Angled Pegboard Hooks</text><text x="1159.6" y="106.2" font-size="3.9" fill="#f8e6d2" font-weight="bold" stroke="none"  textLength="50.4" lengthAdjust="spacingAndGlyphs">12Pcs Pegboard Pliers Holder</text><text x="1159.6" y="112" font-size="3.9" fill="#f8e6d2" font-weight="bold" stroke="none"  textLength="70.2" lengthAdjust="spacingAndGlyphs">2Pcs Long Double Straight Pegboard Hook</text><text x="1159.6" y="117.9" font-size="3.9" fill="#f8e6d2" font-weight="bold" stroke="none"  textLength="72" lengthAdjust="spacingAndGlyphs">2Pcs Small Double Straight Pegboard Hook</text><text x="1159.6" y="123.8" font-size="3.9" fill="#f8e6d2" font-weight="bold" stroke="none"  textLength="59.4" lengthAdjust="spacingAndGlyphs">7Pcs Long Straight Pegboard Hooks</text><text x="1159.6" y="129.6" font-size="3.9" fill="#f8e6d2" font-weight="bold" stroke="none"  textLength="61.2" lengthAdjust="spacingAndGlyphs">7Pcs Short Straight Pegboard Hooks</text><text x="1159.6" y="135.4" font-size="3.9" fill="#f8e6d2" font-weight="bold" stroke="none"  textLength="37.8" lengthAdjust="spacingAndGlyphs">6Pcs Ring Tool Holder</text><text x="1159.6" y="141.3" font-size="3.9" fill="#f8e6d2" font-weight="bold" stroke="none"  textLength="41.4" lengthAdjust="spacingAndGlyphs">1Pcs 6 Ring Tool Holder</text><text x="1159.6" y="147.2" font-size="3.9" fill="#f8e6d2" font-weight="bold" stroke="none"  textLength="39.6" lengthAdjust="spacingAndGlyphs">1Pcs 6 Multi Tool Rack</text><text x="1159.6" y="153" font-size="3.9" fill="#f8e6d2" font-weight="bold" stroke="none"  textLength="28.8" lengthAdjust="spacingAndGlyphs">110pcs Peg Locks</text><text x="1246.6" y="98.9" font-size="5.3" fill="#f8e6d2" font-weight="bold" stroke="none"  textLength="11.6" lengthAdjust="spacingAndGlyphs">TIPS</text><text x="1246.6" y="106.2" font-size="3.7" fill="#f8e6d2" font-weight="bold" stroke="none"  textLength="73.8" lengthAdjust="spacingAndGlyphs">Organization purposes should be organized based</text><text x="1246.6" y="111.7" font-size="3.7" fill="#f8e6d2" font-weight="bold" stroke="none"  textLength="72.2" lengthAdjust="spacingAndGlyphs">on the items and how you use them. Making sure</text><text x="1246.6" y="117.1" font-size="3.7" fill="#f8e6d2" font-weight="bold" stroke="none"  textLength="73.8" lengthAdjust="spacingAndGlyphs">you are grouping your items together correctly.</text><text x="1246.6" y="122.6" font-size="3.7" fill="#f8e6d2" font-weight="bold" stroke="none"  textLength="69.1" lengthAdjust="spacingAndGlyphs">When organizing tools, take into account the</text><text x="1246.6" y="128" font-size="3.7" fill="#f8e6d2" font-weight="bold" stroke="none"  textLength="75.4" lengthAdjust="spacingAndGlyphs">weight of the tools to ensure that the peg hooks</text><text x="1246.6" y="133.4" font-size="3.7" fill="#f8e6d2" font-weight="bold" stroke="none"  textLength="59.7" lengthAdjust="spacingAndGlyphs">will be strong enough to support them.</text><text x="1246.6" y="138.9" font-size="3.7" fill="#f8e6d2" font-weight="bold" stroke="none"  textLength="80.1" lengthAdjust="spacingAndGlyphs">The black clips were to cover the hooks to help the</text><text x="1246.6" y="144.3" font-size="3.7" fill="#f8e6d2" font-weight="bold" stroke="none"  textLength="80.1" lengthAdjust="spacingAndGlyphs">hooks stay on the board when you lift the tool off.</text><circle cx="1249.8" cy="153.8" r="3" stroke="#f8e6d2" stroke-width="0.7"/><text x="1256.5" y="155.2" font-size="3.7" fill="#f8e6d2" font-weight="bold" stroke="none"  textLength="38.4" lengthAdjust="spacingAndGlyphs">inclyservice@hotmail.com</text><text x="1357" y="98.9" font-size="5.3" fill="#f8e6d2" font-weight="bold" stroke="none" textLength="88.5" lengthAdjust="spacingAndGlyphs">FITS ANY STANDARD PEGBOARD</text><text x="1357" y="107.4" font-size="3.8" fill="#f8e6d2" font-weight="bold" stroke="none"  textLength="55.1" lengthAdjust="spacingAndGlyphs">✓ 1/8 inch or larger hole diameter</text><text x="1357" y="113.2" font-size="3.8" fill="#f8e6d2" font-weight="bold" stroke="none"  textLength="34" lengthAdjust="spacingAndGlyphs">✓ 1 inch spaced holes</text><text x="1357" y="119.1" font-size="3.8" fill="#f8e6d2" font-weight="bold" stroke="none"  textLength="55.1" lengthAdjust="spacingAndGlyphs">✓ 1/4 inch board thickness or less</text><text x="1357" y="135.8" font-size="5.3" fill="#f8e6d2" font-weight="bold" stroke="none"  textLength="36.3" lengthAdjust="spacingAndGlyphs">OUR SERVICE</text><text x="1357" y="144.3" font-size="3.5" fill="#f8e6d2" font-weight="bold" stroke="none"  textLength="110" lengthAdjust="spacingAndGlyphs">Thank you for choosing Incly Product. It is our privilege to serve you.</text><text x="1357" y="149.7" font-size="3.5" fill="#f8e6d2" font-weight="bold" stroke="none"  textLength="108.5" lengthAdjust="spacingAndGlyphs">If you are not satisfied with incly pegboard hooks set in any shape to</text><text x="1357" y="155" font-size="3.5" fill="#f8e6d2" font-weight="bold" stroke="none"  textLength="89.9" lengthAdjust="spacingAndGlyphs">either provide a no-questions-asked Refund or Replacement.</text><text x="1088.5" y="171.8" font-size="5.2" fill="#f2f2f2" font-weight="bold" stroke="none" textLength="94" lengthAdjust="spacingAndGlyphs">ABOUT INCLY PEGBOARD HOOKS</text><text x="1088.5" y="178.9" font-size="3.7" fill="#f2f2f2" font-weight="bold" stroke="none"  textLength="106.2" lengthAdjust="spacingAndGlyphs">Nothing beats the feeling of having a completely organized home.</text><text x="1088.5" y="184" font-size="3.7" fill="#f2f2f2" font-weight="bold" stroke="none"  textLength="107.9" lengthAdjust="spacingAndGlyphs">Aside from a lack of clutter, organization provides a stress-free</text><text x="1088.5" y="188.9" font-size="3.7" fill="#f2f2f2" font-weight="bold" stroke="none"  textLength="23.2" lengthAdjust="spacingAndGlyphs">piece of mind.</text><text x="1088.5" y="195.5" font-size="3.7" fill="#f2f2f2" font-weight="bold" stroke="none"  textLength="104.6" lengthAdjust="spacingAndGlyphs">A wide variety of metal peg hooks help you organize for garage,</text><text x="1088.5" y="200.3" font-size="3.7" fill="#f2f2f2" font-weight="bold" stroke="none"  textLength="106.2" lengthAdjust="spacingAndGlyphs">workbench, workshop, kitchen basement, shop, school, tool sheds,</text><text x="1088.5" y="205.7" font-size="3.7" fill="#f2f2f2" font-weight="bold" stroke="none"  textLength="36.5" lengthAdjust="spacingAndGlyphs">factory, or warehouse.</text><text x="1212.4" y="171.8" font-size="5.2" fill="#f2f2f2" font-weight="bold" stroke="none" textLength="41.5" lengthAdjust="spacingAndGlyphs">INSTRUCTIONS</text><text x="1212.4" y="178.6" font-size="3.7" fill="#f2f2f2" font-weight="bold" stroke="none"  textLength="135.3" lengthAdjust="spacingAndGlyphs">INCLY PEGBOARD HOOK SET FITS ANY STANDARD PEGBOARD – Great for metal and non-metal</text><text x="1212.4" y="184" font-size="3.7" fill="#f2f2f2" font-weight="bold" stroke="none"  textLength="168.3" lengthAdjust="spacingAndGlyphs">pegboards. Fits Wall Control pegboards, Triton pegboards, and all other standard steel pegboards (1/4,</text><text x="1212.4" y="189" font-size="3.7" fill="#f2f2f2" font-weight="bold" stroke="none"  textLength="128.7" lengthAdjust="spacingAndGlyphs">3/16, or 1/8 inch hole diameter on pegboards that are 1/4 inch thick or less).</text><text x="1212.4" y="195.2" font-size="3.7" fill="#f2f2f2" font-weight="bold" stroke="none"  textLength="169.9" lengthAdjust="spacingAndGlyphs">The Hooks are made of hardened steel construction, corrosion resistant chrome plating finish to provide</text><text x="1212.4" y="200.4" font-size="3.7" fill="#f2f2f2" font-weight="bold" stroke="none"  textLength="125.4" lengthAdjust="spacingAndGlyphs">maximum strength, resist rust and corrosion. Keep tools organized and ready.</text><text x="1212.4" y="206.5" font-size="3.7" fill="#f2f2f2" font-weight="bold" stroke="none"  textLength="148.5" lengthAdjust="spacingAndGlyphs">The Bins can holds small parts, hardware, screws, washers, small tools, tape measure, etc.</text></g>
<g><path d="M1068.2 225 L1496.5 225" stroke="#2a2a2a" stroke-width="2.4" stroke-dasharray="5.3 1.26" stroke-linecap="butt"/><path d="M1068.2 279.5 L1496.5 279.5" stroke="#2a2a2a" stroke-width="2.4" stroke-dasharray="5.3 1.26" stroke-linecap="butt"/><path d="M1491.60 227.5 l-4.8 19.3 q4.8 2.2 4.5 5.2 q-0.3 2.8 -4.5 5 l4.8 19.8 M1485.08 227.5 l-4.8 19.3 q4.8 2.2 4.5 5.2 q-0.3 2.8 -4.5 5 l4.8 19.8 M1478.57 227.5 l-4.8 19.3 q4.8 2.2 4.5 5.2 q-0.3 2.8 -4.5 5 l4.8 19.8 M1472.05 227.5 l-4.8 19.3 q4.8 2.2 4.5 5.2 q-0.3 2.8 -4.5 5 l4.8 19.8 M1465.53 227.5 l-4.8 19.3 q4.8 2.2 4.5 5.2 q-0.3 2.8 -4.5 5 l4.8 19.8 M1459.01 227.5 l-4.8 19.3 q4.8 2.2 4.5 5.2 q-0.3 2.8 -4.5 5 l4.8 19.8 M1452.50 227.5 l-4.8 19.3 q4.8 2.2 4.5 5.2 q-0.3 2.8 -4.5 5 l4.8 19.8 M1445.98 227.5 l-4.8 19.3 q4.8 2.2 4.5 5.2 q-0.3 2.8 -4.5 5 l4.8 19.8 M1439.46 227.5 l-4.8 19.3 q4.8 2.2 4.5 5.2 q-0.3 2.8 -4.5 5 l4.8 19.8 M1432.95 227.5 l-4.8 19.3 q4.8 2.2 4.5 5.2 q-0.3 2.8 -4.5 5 l4.8 19.8 M1426.43 227.5 l-4.8 19.3 q4.8 2.2 4.5 5.2 q-0.3 2.8 -4.5 5 l4.8 19.8 M1419.91 227.5 l-4.8 19.3 q4.8 2.2 4.5 5.2 q-0.3 2.8 -4.5 5 l4.8 19.8 M1413.40 227.5 l-4.8 19.3 q4.8 2.2 4.5 5.2 q-0.3 2.8 -4.5 5 l4.8 19.8 M1406.88 227.5 l-4.8 19.3 q4.8 2.2 4.5 5.2 q-0.3 2.8 -4.5 5 l4.8 19.8 M1400.36 227.5 l-4.8 19.3 q4.8 2.2 4.5 5.2 q-0.3 2.8 -4.5 5 l4.8 19.8 M1393.84 227.5 l-4.8 19.3 q4.8 2.2 4.5 5.2 q-0.3 2.8 -4.5 5 l4.8 19.8 M1387.33 227.5 l-4.8 19.3 q4.8 2.2 4.5 5.2 q-0.3 2.8 -4.5 5 l4.8 19.8 M1380.81 227.5 l-4.8 19.3 q4.8 2.2 4.5 5.2 q-0.3 2.8 -4.5 5 l4.8 19.8 M1374.29 227.5 l-4.8 19.3 q4.8 2.2 4.5 5.2 q-0.3 2.8 -4.5 5 l4.8 19.8 M1367.78 227.5 l-4.8 19.3 q4.8 2.2 4.5 5.2 q-0.3 2.8 -4.5 5 l4.8 19.8 M1361.26 227.5 l-4.8 19.3 q4.8 2.2 4.5 5.2 q-0.3 2.8 -4.5 5 l4.8 19.8 M1354.74 227.5 l-4.8 19.3 q4.8 2.2 4.5 5.2 q-0.3 2.8 -4.5 5 l4.8 19.8 M1348.23 227.5 l-4.8 19.3 q4.8 2.2 4.5 5.2 q-0.3 2.8 -4.5 5 l4.8 19.8 M1341.71 227.5 l-4.8 19.3 q4.8 2.2 4.5 5.2 q-0.3 2.8 -4.5 5 l4.8 19.8 M1335.19 227.5 l-4.8 19.3 q4.8 2.2 4.5 5.2 q-0.3 2.8 -4.5 5 l4.8 19.8 M1328.67 227.5 l-4.8 19.3 q4.8 2.2 4.5 5.2 q-0.3 2.8 -4.5 5 l4.8 19.8 M1322.16 227.5 l-4.8 19.3 q4.8 2.2 4.5 5.2 q-0.3 2.8 -4.5 5 l4.8 19.8 M1315.64 227.5 l-4.8 19.3 q4.8 2.2 4.5 5.2 q-0.3 2.8 -4.5 5 l4.8 19.8 M1309.12 227.5 l-4.8 19.3 q4.8 2.2 4.5 5.2 q-0.3 2.8 -4.5 5 l4.8 19.8 M1302.61 227.5 l-4.8 19.3 q4.8 2.2 4.5 5.2 q-0.3 2.8 -4.5 5 l4.8 19.8 M1296.09 227.5 l-4.8 19.3 q4.8 2.2 4.5 5.2 q-0.3 2.8 -4.5 5 l4.8 19.8 M1289.57 227.5 l-4.8 19.3 q4.8 2.2 4.5 5.2 q-0.3 2.8 -4.5 5 l4.8 19.8 M1283.06 227.5 l-4.8 19.3 q4.8 2.2 4.5 5.2 q-0.3 2.8 -4.5 5 l4.8 19.8 M1276.54 227.5 l-4.8 19.3 q4.8 2.2 4.5 5.2 q-0.3 2.8 -4.5 5 l4.8 19.8 M1270.02 227.5 l-4.8 19.3 q4.8 2.2 4.5 5.2 q-0.3 2.8 -4.5 5 l4.8 19.8 M1263.50 227.5 l-4.8 19.3 q4.8 2.2 4.5 5.2 q-0.3 2.8 -4.5 5 l4.8 19.8 M1256.99 227.5 l-4.8 19.3 q4.8 2.2 4.5 5.2 q-0.3 2.8 -4.5 5 l4.8 19.8 M1250.47 227.5 l-4.8 19.3 q4.8 2.2 4.5 5.2 q-0.3 2.8 -4.5 5 l4.8 19.8 M1243.95 227.5 l-4.8 19.3 q4.8 2.2 4.5 5.2 q-0.3 2.8 -4.5 5 l4.8 19.8 M1237.44 227.5 l-4.8 19.3 q4.8 2.2 4.5 5.2 q-0.3 2.8 -4.5 5 l4.8 19.8 M1230.92 227.5 l-4.8 19.3 q4.8 2.2 4.5 5.2 q-0.3 2.8 -4.5 5 l4.8 19.8 M1224.40 227.5 l-4.8 19.3 q4.8 2.2 4.5 5.2 q-0.3 2.8 -4.5 5 l4.8 19.8 M1217.89 227.5 l-4.8 19.3 q4.8 2.2 4.5 5.2 q-0.3 2.8 -4.5 5 l4.8 19.8 M1211.37 227.5 l-4.8 19.3 q4.8 2.2 4.5 5.2 q-0.3 2.8 -4.5 5 l4.8 19.8 M1204.85 227.5 l-4.8 19.3 q4.8 2.2 4.5 5.2 q-0.3 2.8 -4.5 5 l4.8 19.8 M1198.33 227.5 l-4.8 19.3 q4.8 2.2 4.5 5.2 q-0.3 2.8 -4.5 5 l4.8 19.8 M1191.82 227.5 l-4.8 19.3 q4.8 2.2 4.5 5.2 q-0.3 2.8 -4.5 5 l4.8 19.8 M1185.30 227.5 l-4.8 19.3 q4.8 2.2 4.5 5.2 q-0.3 2.8 -4.5 5 l4.8 19.8 M1178.78 227.5 l-4.8 19.3 q4.8 2.2 4.5 5.2 q-0.3 2.8 -4.5 5 l4.8 19.8 M1172.27 227.5 l-4.8 19.3 q4.8 2.2 4.5 5.2 q-0.3 2.8 -4.5 5 l4.8 19.8 M1165.75 227.5 l-4.8 19.3 q4.8 2.2 4.5 5.2 q-0.3 2.8 -4.5 5 l4.8 19.8 M1159.23 227.5 l-4.8 19.3 q4.8 2.2 4.5 5.2 q-0.3 2.8 -4.5 5 l4.8 19.8 M1152.72 227.5 l-4.8 19.3 q4.8 2.2 4.5 5.2 q-0.3 2.8 -4.5 5 l4.8 19.8 M1146.20 227.5 l-4.8 19.3 q4.8 2.2 4.5 5.2 q-0.3 2.8 -4.5 5 l4.8 19.8 M1139.68 227.5 l-4.8 19.3 q4.8 2.2 4.5 5.2 q-0.3 2.8 -4.5 5 l4.8 19.8 M1133.16 227.5 l-4.8 19.3 q4.8 2.2 4.5 5.2 q-0.3 2.8 -4.5 5 l4.8 19.8 M1126.65 227.5 l-4.8 19.3 q4.8 2.2 4.5 5.2 q-0.3 2.8 -4.5 5 l4.8 19.8 M1120.13 227.5 l-4.8 19.3 q4.8 2.2 4.5 5.2 q-0.3 2.8 -4.5 5 l4.8 19.8 M1113.61 227.5 l-4.8 19.3 q4.8 2.2 4.5 5.2 q-0.3 2.8 -4.5 5 l4.8 19.8 M1107.10 227.5 l-4.8 19.3 q4.8 2.2 4.5 5.2 q-0.3 2.8 -4.5 5 l4.8 19.8 M1100.58 227.5 l-4.8 19.3 q4.8 2.2 4.5 5.2 q-0.3 2.8 -4.5 5 l4.8 19.8 M1094.06 227.5 l-4.8 19.3 q4.8 2.2 4.5 5.2 q-0.3 2.8 -4.5 5 l4.8 19.8 M1087.55 227.5 l-4.8 19.3 q4.8 2.2 4.5 5.2 q-0.3 2.8 -4.5 5 l4.8 19.8 M1081.03 227.5 l-4.8 19.3 q4.8 2.2 4.5 5.2 q-0.3 2.8 -4.5 5 l4.8 19.8" stroke="#222" stroke-width="2" stroke-linejoin="round"/><path d="M1068.2 285.8 L1496.5 285.8" stroke="#2a2a2a" stroke-width="2.4" stroke-dasharray="5.3 1.26" stroke-linecap="butt"/><path d="M1068.2 340.3 L1496.5 340.3" stroke="#2a2a2a" stroke-width="2.4" stroke-dasharray="5.3 1.26" stroke-linecap="butt"/><path d="M1491.60 288.3 l-4.8 19.3 q4.8 2.2 4.5 5.2 q-0.3 2.8 -4.5 5 l4.8 19.8 M1485.08 288.3 l-4.8 19.3 q4.8 2.2 4.5 5.2 q-0.3 2.8 -4.5 5 l4.8 19.8 M1478.57 288.3 l-4.8 19.3 q4.8 2.2 4.5 5.2 q-0.3 2.8 -4.5 5 l4.8 19.8 M1472.05 288.3 l-4.8 19.3 q4.8 2.2 4.5 5.2 q-0.3 2.8 -4.5 5 l4.8 19.8 M1465.53 288.3 l-4.8 19.3 q4.8 2.2 4.5 5.2 q-0.3 2.8 -4.5 5 l4.8 19.8 M1459.01 288.3 l-4.8 19.3 q4.8 2.2 4.5 5.2 q-0.3 2.8 -4.5 5 l4.8 19.8 M1452.50 288.3 l-4.8 19.3 q4.8 2.2 4.5 5.2 q-0.3 2.8 -4.5 5 l4.8 19.8 M1445.98 288.3 l-4.8 19.3 q4.8 2.2 4.5 5.2 q-0.3 2.8 -4.5 5 l4.8 19.8 M1439.46 288.3 l-4.8 19.3 q4.8 2.2 4.5 5.2 q-0.3 2.8 -4.5 5 l4.8 19.8 M1432.95 288.3 l-4.8 19.3 q4.8 2.2 4.5 5.2 q-0.3 2.8 -4.5 5 l4.8 19.8 M1426.43 288.3 l-4.8 19.3 q4.8 2.2 4.5 5.2 q-0.3 2.8 -4.5 5 l4.8 19.8 M1419.91 288.3 l-4.8 19.3 q4.8 2.2 4.5 5.2 q-0.3 2.8 -4.5 5 l4.8 19.8 M1413.40 288.3 l-4.8 19.3 q4.8 2.2 4.5 5.2 q-0.3 2.8 -4.5 5 l4.8 19.8 M1406.88 288.3 l-4.8 19.3 q4.8 2.2 4.5 5.2 q-0.3 2.8 -4.5 5 l4.8 19.8 M1400.36 288.3 l-4.8 19.3 q4.8 2.2 4.5 5.2 q-0.3 2.8 -4.5 5 l4.8 19.8 M1393.84 288.3 l-4.8 19.3 q4.8 2.2 4.5 5.2 q-0.3 2.8 -4.5 5 l4.8 19.8 M1387.33 288.3 l-4.8 19.3 q4.8 2.2 4.5 5.2 q-0.3 2.8 -4.5 5 l4.8 19.8 M1380.81 288.3 l-4.8 19.3 q4.8 2.2 4.5 5.2 q-0.3 2.8 -4.5 5 l4.8 19.8 M1374.29 288.3 l-4.8 19.3 q4.8 2.2 4.5 5.2 q-0.3 2.8 -4.5 5 l4.8 19.8 M1367.78 288.3 l-4.8 19.3 q4.8 2.2 4.5 5.2 q-0.3 2.8 -4.5 5 l4.8 19.8 M1361.26 288.3 l-4.8 19.3 q4.8 2.2 4.5 5.2 q-0.3 2.8 -4.5 5 l4.8 19.8 M1354.74 288.3 l-4.8 19.3 q4.8 2.2 4.5 5.2 q-0.3 2.8 -4.5 5 l4.8 19.8 M1348.23 288.3 l-4.8 19.3 q4.8 2.2 4.5 5.2 q-0.3 2.8 -4.5 5 l4.8 19.8 M1341.71 288.3 l-4.8 19.3 q4.8 2.2 4.5 5.2 q-0.3 2.8 -4.5 5 l4.8 19.8 M1335.19 288.3 l-4.8 19.3 q4.8 2.2 4.5 5.2 q-0.3 2.8 -4.5 5 l4.8 19.8 M1328.67 288.3 l-4.8 19.3 q4.8 2.2 4.5 5.2 q-0.3 2.8 -4.5 5 l4.8 19.8 M1322.16 288.3 l-4.8 19.3 q4.8 2.2 4.5 5.2 q-0.3 2.8 -4.5 5 l4.8 19.8 M1315.64 288.3 l-4.8 19.3 q4.8 2.2 4.5 5.2 q-0.3 2.8 -4.5 5 l4.8 19.8 M1309.12 288.3 l-4.8 19.3 q4.8 2.2 4.5 5.2 q-0.3 2.8 -4.5 5 l4.8 19.8 M1302.61 288.3 l-4.8 19.3 q4.8 2.2 4.5 5.2 q-0.3 2.8 -4.5 5 l4.8 19.8 M1296.09 288.3 l-4.8 19.3 q4.8 2.2 4.5 5.2 q-0.3 2.8 -4.5 5 l4.8 19.8 M1289.57 288.3 l-4.8 19.3 q4.8 2.2 4.5 5.2 q-0.3 2.8 -4.5 5 l4.8 19.8 M1283.06 288.3 l-4.8 19.3 q4.8 2.2 4.5 5.2 q-0.3 2.8 -4.5 5 l4.8 19.8 M1276.54 288.3 l-4.8 19.3 q4.8 2.2 4.5 5.2 q-0.3 2.8 -4.5 5 l4.8 19.8 M1270.02 288.3 l-4.8 19.3 q4.8 2.2 4.5 5.2 q-0.3 2.8 -4.5 5 l4.8 19.8 M1263.50 288.3 l-4.8 19.3 q4.8 2.2 4.5 5.2 q-0.3 2.8 -4.5 5 l4.8 19.8 M1256.99 288.3 l-4.8 19.3 q4.8 2.2 4.5 5.2 q-0.3 2.8 -4.5 5 l4.8 19.8 M1250.47 288.3 l-4.8 19.3 q4.8 2.2 4.5 5.2 q-0.3 2.8 -4.5 5 l4.8 19.8 M1243.95 288.3 l-4.8 19.3 q4.8 2.2 4.5 5.2 q-0.3 2.8 -4.5 5 l4.8 19.8 M1237.44 288.3 l-4.8 19.3 q4.8 2.2 4.5 5.2 q-0.3 2.8 -4.5 5 l4.8 19.8 M1230.92 288.3 l-4.8 19.3 q4.8 2.2 4.5 5.2 q-0.3 2.8 -4.5 5 l4.8 19.8 M1224.40 288.3 l-4.8 19.3 q4.8 2.2 4.5 5.2 q-0.3 2.8 -4.5 5 l4.8 19.8 M1217.89 288.3 l-4.8 19.3 q4.8 2.2 4.5 5.2 q-0.3 2.8 -4.5 5 l4.8 19.8 M1211.37 288.3 l-4.8 19.3 q4.8 2.2 4.5 5.2 q-0.3 2.8 -4.5 5 l4.8 19.8 M1204.85 288.3 l-4.8 19.3 q4.8 2.2 4.5 5.2 q-0.3 2.8 -4.5 5 l4.8 19.8 M1198.33 288.3 l-4.8 19.3 q4.8 2.2 4.5 5.2 q-0.3 2.8 -4.5 5 l4.8 19.8 M1191.82 288.3 l-4.8 19.3 q4.8 2.2 4.5 5.2 q-0.3 2.8 -4.5 5 l4.8 19.8 M1185.30 288.3 l-4.8 19.3 q4.8 2.2 4.5 5.2 q-0.3 2.8 -4.5 5 l4.8 19.8 M1178.78 288.3 l-4.8 19.3 q4.8 2.2 4.5 5.2 q-0.3 2.8 -4.5 5 l4.8 19.8 M1172.27 288.3 l-4.8 19.3 q4.8 2.2 4.5 5.2 q-0.3 2.8 -4.5 5 l4.8 19.8 M1165.75 288.3 l-4.8 19.3 q4.8 2.2 4.5 5.2 q-0.3 2.8 -4.5 5 l4.8 19.8 M1159.23 288.3 l-4.8 19.3 q4.8 2.2 4.5 5.2 q-0.3 2.8 -4.5 5 l4.8 19.8 M1152.72 288.3 l-4.8 19.3 q4.8 2.2 4.5 5.2 q-0.3 2.8 -4.5 5 l4.8 19.8 M1146.20 288.3 l-4.8 19.3 q4.8 2.2 4.5 5.2 q-0.3 2.8 -4.5 5 l4.8 19.8 M1139.68 288.3 l-4.8 19.3 q4.8 2.2 4.5 5.2 q-0.3 2.8 -4.5 5 l4.8 19.8 M1133.16 288.3 l-4.8 19.3 q4.8 2.2 4.5 5.2 q-0.3 2.8 -4.5 5 l4.8 19.8 M1126.65 288.3 l-4.8 19.3 q4.8 2.2 4.5 5.2 q-0.3 2.8 -4.5 5 l4.8 19.8 M1120.13 288.3 l-4.8 19.3 q4.8 2.2 4.5 5.2 q-0.3 2.8 -4.5 5 l4.8 19.8 M1113.61 288.3 l-4.8 19.3 q4.8 2.2 4.5 5.2 q-0.3 2.8 -4.5 5 l4.8 19.8 M1107.10 288.3 l-4.8 19.3 q4.8 2.2 4.5 5.2 q-0.3 2.8 -4.5 5 l4.8 19.8 M1100.58 288.3 l-4.8 19.3 q4.8 2.2 4.5 5.2 q-0.3 2.8 -4.5 5 l4.8 19.8 M1094.06 288.3 l-4.8 19.3 q4.8 2.2 4.5 5.2 q-0.3 2.8 -4.5 5 l4.8 19.8 M1087.55 288.3 l-4.8 19.3 q4.8 2.2 4.5 5.2 q-0.3 2.8 -4.5 5 l4.8 19.8 M1081.03 288.3 l-4.8 19.3 q4.8 2.2 4.5 5.2 q-0.3 2.8 -4.5 5 l4.8 19.8" stroke="#222" stroke-width="2" stroke-linejoin="round"/></g>
<g><path d="M1199 351 L1199 434" stroke="#4f5358" stroke-width="5.8" /><path d="M1199 351 L1199 434" stroke="#a4a8ad" stroke-width="3.5" /><path d="M1199 351 L1199 434" stroke="#e9ebed" stroke-width="1.7" /><path d="M1390.3 351 L1390.3 435" stroke="#4f5358" stroke-width="5.8" /><path d="M1390.3 351 L1390.3 435" stroke="#a4a8ad" stroke-width="3.5" /><path d="M1390.3 351 L1390.3 435" stroke="#e9ebed" stroke-width="1.7" /><path d="M1122 435.4 L1467.8 437.2 L1470.6 504 Q1470.6 508.8 1465 508.8 L1124 508.8 Q1116.6 508.8 1116.6 502Z" fill="url(#trayg)" stroke="none"/><ellipse cx="1294.2" cy="440.8" rx="4.6" ry="2.6" fill="#f7f7f7" stroke="none"/><path d="M1195 436 L1204 436 L1207 480 L1196 480Z" fill="url(#glow)" stroke="none"/><path d="M1386 437 L1395 437 L1396 480 L1384 480Z" fill="url(#glow)" stroke="none"/></g>
<use href="#plier" x="0" y="0"/>
<use href="#plier" x="105.2" y="0"/>
<use href="#plier" x="210.4" y="0"/>
<use href="#plier" x="315.6" y="0"/>
<use href="#plier" x="0" y="77.4"/>
<use href="#plier" x="105.2" y="77.4"/>
<use href="#plier" x="210.4" y="77.4"/>
<use href="#plier" x="315.6" y="77.4"/>
<use href="#plier" x="0" y="154.8"/>
<use href="#plier" x="105.2" y="154.8"/>
<use href="#plier" x="210.4" y="154.8"/>
<use href="#plier" x="315.6" y="154.8"/>
<use href="#ringh" x="0"/>
<use href="#ringh" x="103"/>
<use href="#ringh" x="205.9"/>
<use href="#ringh" x="308.9"/>
<use href="#ringh" x="411.8"/>
<use href="#ringh" x="514.8"/>
<use href="#hs" y="0"/>
<use href="#hs" y="63.5"/>
<use href="#hs" y="127"/>
<use href="#hs" y="190.5"/>
<use href="#hs" y="254"/>
<use href="#hs" y="317.5"/>
<use href="#hs" y="381"/>
<use href="#hl" y="1.5"/>
<use href="#hl" y="57.7"/>
<use href="#hl" y="113.9"/>
<use href="#hl" y="170.1"/>
<use href="#hl" y="226.3"/>
<use href="#hl" y="282.5"/>
<use href="#hl" y="338.7"/>
<use href="#ds"/><use href="#ds" y="76"/>
<use href="#dl"/><use href="#dl" y="74.5"/>
<use href="#mc" x="484"/>
<use href="#mc" x="440"/>
<use href="#mc" x="396"/>
<use href="#mc" x="352"/>
<use href="#mc" x="308"/>
<use href="#mc" x="264"/>
<use href="#mc" x="220"/>
<use href="#mc" x="176"/>
<use href="#mc" x="132"/>
<use href="#mc" x="88"/>
<use href="#mc" x="44"/>
<use href="#mc" x="0"/>
<use href="#sc" x="388.8"/>
<use href="#sc" x="356.4"/>
<use href="#sc" x="324"/>
<use href="#sc" x="291.6"/>
<use href="#sc" x="259.2"/>
<use href="#sc" x="226.8"/>
<use href="#sc" x="194.4"/>
<use href="#sc" x="162"/>
<use href="#sc" x="129.6"/>
<use href="#sc" x="97.2"/>
<use href="#sc" x="64.8"/>
<use href="#sc" x="32.4"/>
<use href="#sc" x="0"/>
<use href="#lc" x="908"/>
<use href="#lc" x="838.2"/>
<use href="#lc" x="768.3"/>
<use href="#lc" x="698.5"/>
<use href="#lc" x="628.6"/>
<use href="#lc" x="558.8"/>
<use href="#lc" x="488.9"/>
<use href="#lc" x="419.1"/>
<use href="#lc" x="349.2"/>
<use href="#lc" x="279.4"/>
<use href="#lc" x="209.5"/>
<use href="#lc" x="139.7"/>
<use href="#lc" x="69.8"/>
<use href="#lc" x="0"/>
<use href="#lm" x="904.4"/>
<use href="#lm" x="839.8"/>
<use href="#lm" x="775.2"/>
<use href="#lm" x="710.6"/>
<use href="#lm" x="646"/>
<use href="#lm" x="581.4"/>
<use href="#lm" x="516.8"/>
<use href="#lm" x="452.2"/>
<use href="#lm" x="387.6"/>
<use href="#lm" x="323"/>
<use href="#lm" x="258.4"/>
<use href="#lm" x="193.8"/>
<use href="#lm" x="129.2"/>
<use href="#lm" x="64.6"/>
<use href="#lm" x="0"/>
<use href="#ls" x="486.2"/>
<use href="#ls" x="442"/>
<use href="#ls" x="397.8"/>
<use href="#ls" x="353.6"/>
<use href="#ls" x="309.4"/>
<use href="#ls" x="265.2"/>
<use href="#ls" x="221"/>
<use href="#ls" x="176.8"/>
<use href="#ls" x="132.6"/>
<use href="#ls" x="88.4"/>
<use href="#ls" x="44.2"/>
<use href="#ls" x="0"/>
<use href="#sa" x="348.5"/>
<use href="#sa" x="316.8"/>
<use href="#sa" x="285.1"/>
<use href="#sa" x="253.4"/>
<use href="#sa" x="221.8"/>
<use href="#sa" x="190.1"/>
<use href="#sa" x="158.4"/>
<use href="#sa" x="126.7"/>
<use href="#sa" x="95"/>
<use href="#sa" x="63.4"/>
<use href="#sa" x="31.7"/>
<use href="#sa" x="0"/>
<g><path d="M15 1351.7 L20 1366.7 L26 1372.5 M50.7 1341.7 L55 1355 L62 1361 M90 1328.3 L95 1341.7 L102 1347.5 M126 1317.3 L130.7 1330 L137 1336" stroke="#2a2a2a" stroke-width="3.4"/><path d="M18.3 1377 Q18.1 1372 23.3 1370.8 L134 1335.4 Q141 1333.6 145 1338 L192.8 1386.5 Q195.8 1390 195.8 1395 L196 1451.7 Q196 1457.5 190.5 1458.9 L74.5 1490.6 Q67.5 1492.7 63.5 1486.9 L25.2 1444 Q22 1440.5 21.8 1435Z" fill="#0a0a0a" stroke="none"/><path d="M23.3 1376 L136 1340.5 L137 1395.5 L62.4 1421.8Z" fill="#101112" stroke="none"/><path d="M136 1340.5 L189.8 1391.5 L146 1403.5 L137 1395.5Z" fill="#17181a" stroke="none"/><path d="M62.4 1421.8 L137 1395.5 L146 1403.5 L65.9 1426.1Z" fill="#202122" stroke="none"/><path d="M61.7 1428.7 L193.6 1392.6 L194 1452.1 Q194 1456.1 190 1457.1 L74.5 1488.7 Q68.9 1490.1 66.3 1485.9Z" fill="url(#binf)" stroke="none"/><path d="M20.5 1375 L60.5 1425.7 Q61.9 1427.7 64.9 1426.9 L192.3 1391.7" stroke="#3a3b3c" stroke-width="1.1"/><path d="M137 1342 L137 1395" stroke="#232425" stroke-width="0.9"/></g>
<g><path d="M199.9 1351.7 L204.9 1366.7 L210.9 1372.5 M235.4 1341.7 L239.7 1355 L246.7 1361 M274.4 1328.3 L279.4 1341.7 L286.4 1347.5 M310.2 1317.3 L314.9 1330 L321.2 1336" stroke="#2a2a2a" stroke-width="3.4"/><path d="M202.5 1377 Q202.3 1372 207.5 1370.8 L318.2 1335.4 Q325.2 1333.6 329.2 1338 L377.2 1386.8 Q380.2 1390.3 380.2 1395.3 L380.1 1450.9 Q380.1 1456.7 374.6 1458.1 L259.6 1490.7 Q252.6 1492.8 248.6 1487 L208.5 1444 Q205.3 1440.5 205.1 1435Z" fill="#0a0a0a" stroke="none"/><path d="M207.5 1376 L320.2 1340.5 L321.2 1395.5 L248.3 1422.2Z" fill="#101112" stroke="none"/><path d="M320.2 1340.5 L374.2 1391.8 L330.2 1403.5 L321.2 1395.5Z" fill="#17181a" stroke="none"/><path d="M248.3 1422.2 L321.2 1395.5 L330.2 1403.5 L251.8 1426.5Z" fill="#202122" stroke="none"/><path d="M247.6 1429.1 L378 1392.9 L378.1 1451.3 Q378.1 1455.3 374.1 1456.3 L259.6 1488.8 Q254 1490.2 251.4 1486Z" fill="url(#binf)" stroke="none"/><path d="M204.7 1375 L246.4 1426.1 Q247.8 1428.1 250.8 1427.3 L376.7 1392" stroke="#3a3b3c" stroke-width="1.1"/><path d="M321.2 1342 L321.2 1395" stroke="#232425" stroke-width="0.9"/></g>
<g><path d="M384.8 1351.7 L389.8 1366.7 L395.8 1372.5 M420.1 1341.7 L424.4 1355 L431.4 1361 M458.9 1328.3 L463.9 1341.7 L470.9 1347.5 M494.4 1317.3 L499.1 1330 L505.4 1336" stroke="#2a2a2a" stroke-width="3.4"/><path d="M386.7 1377 Q386.5 1372 391.7 1370.8 L502.4 1335.4 Q509.4 1333.6 513.4 1338 L561.6 1387.1 Q564.6 1390.6 564.6 1395.6 L564.1 1450 Q564.1 1455.8 558.6 1457.2 L444.8 1490.8 Q437.8 1492.9 433.8 1487.1 L391.9 1444 Q388.7 1440.5 388.5 1435Z" fill="#0a0a0a" stroke="none"/><path d="M391.7 1376 L504.4 1340.5 L505.4 1395.5 L434.1 1422.7Z" fill="#101112" stroke="none"/><path d="M504.4 1340.5 L558.6 1392.1 L514.4 1403.5 L505.4 1395.5Z" fill="#17181a" stroke="none"/><path d="M434.1 1422.7 L505.4 1395.5 L514.4 1403.5 L437.6 1427Z" fill="#202122" stroke="none"/><path d="M433.4 1429.6 L562.4 1393.2 L562.1 1450.4 Q562.1 1454.4 558.1 1455.4 L444.8 1488.9 Q439.2 1490.3 436.6 1486.1Z" fill="url(#binf)" stroke="none"/><path d="M388.9 1375 L432.2 1426.6 Q433.6 1428.6 436.6 1427.8 L561.1 1392.3" stroke="#3a3b3c" stroke-width="1.1"/><path d="M505.4 1342 L505.4 1395" stroke="#232425" stroke-width="0.9"/></g>
<g><path d="M569.7 1351.7 L574.7 1366.7 L580.7 1372.5 M604.7 1341.7 L609 1355 L616 1361 M643.3 1328.3 L648.3 1341.7 L655.3 1347.5 M678.6 1317.3 L683.3 1330 L689.6 1336" stroke="#2a2a2a" stroke-width="3.4"/><path d="M570.9 1377 Q570.7 1372 575.9 1370.8 L686.6 1335.4 Q693.6 1333.6 697.6 1338 L746 1387.4 Q749 1390.9 749 1395.9 L748.2 1449.2 Q748.2 1455 742.7 1456.4 L629.9 1490.9 Q622.9 1493 618.9 1487.2 L575.2 1444 Q572 1440.5 571.8 1435Z" fill="#0a0a0a" stroke="none"/><path d="M575.9 1376 L688.6 1340.5 L689.6 1395.5 L620 1423.1Z" fill="#101112" stroke="none"/><path d="M688.6 1340.5 L743 1392.4 L698.6 1403.5 L689.6 1395.5Z" fill="#17181a" stroke="none"/><path d="M620 1423.1 L689.6 1395.5 L698.6 1403.5 L623.5 1427.4Z" fill="#202122" stroke="none"/><path d="M619.3 1430 L746.8 1393.5 L746.2 1449.6 Q746.2 1453.6 742.2 1454.6 L629.9 1489 Q624.3 1490.4 621.7 1486.2Z" fill="url(#binf)" stroke="none"/><path d="M573.1 1375 L618.1 1427 Q619.5 1429 622.5 1428.2 L745.5 1392.6" stroke="#3a3b3c" stroke-width="1.1"/><path d="M689.6 1342 L689.6 1395" stroke="#232425" stroke-width="0.9"/></g>
<g><path d="M754.7 1351.7 L759.7 1366.7 L765.7 1372.5 M789.4 1341.7 L793.7 1355 L800.7 1361 M827.8 1328.3 L832.8 1341.7 L839.8 1347.5 M862.8 1317.3 L867.5 1330 L873.8 1336" stroke="#2a2a2a" stroke-width="3.4"/><path d="M755.1 1377 Q754.9 1372 760.1 1370.8 L870.8 1335.4 Q877.8 1333.6 881.8 1338 L930.4 1387.7 Q933.4 1391.2 933.4 1396.2 L932.2 1448.3 Q932.2 1454.1 926.7 1455.5 L815 1491 Q808 1493.1 804 1487.3 L758.6 1444 Q755.4 1440.5 755.2 1435Z" fill="#0a0a0a" stroke="none"/><path d="M760.1 1376 L872.8 1340.5 L873.8 1395.5 L805.8 1423.5Z" fill="#101112" stroke="none"/><path d="M872.8 1340.5 L927.4 1392.7 L882.8 1403.5 L873.8 1395.5Z" fill="#17181a" stroke="none"/><path d="M805.8 1423.5 L873.8 1395.5 L882.8 1403.5 L809.3 1427.8Z" fill="#202122" stroke="none"/><path d="M805.1 1430.4 L931.2 1393.8 L930.2 1448.7 Q930.2 1452.7 926.2 1453.7 L815 1489.1 Q809.4 1490.5 806.8 1486.3Z" fill="url(#binf)" stroke="none"/><path d="M757.3 1375 L803.9 1427.4 Q805.3 1429.4 808.3 1428.6 L929.9 1392.9" stroke="#3a3b3c" stroke-width="1.1"/><path d="M873.8 1342 L873.8 1395" stroke="#232425" stroke-width="0.9"/></g>
<g><path d="M939.6 1351.7 L944.6 1366.7 L950.6 1372.5 M974.1 1341.7 L978.4 1355 L985.4 1361 M1012.2 1328.3 L1017.2 1341.7 L1024.2 1347.5 M1047 1317.3 L1051.7 1330 L1058 1336" stroke="#2a2a2a" stroke-width="3.4"/><path d="M939.3 1377 Q939.1 1372 944.3 1370.8 L1055 1335.4 Q1062 1333.6 1066 1338 L1114.8 1388 Q1117.8 1391.5 1117.8 1396.5 L1116.3 1447.5 Q1116.3 1453.3 1110.8 1454.7 L1000.1 1491.1 Q993.1 1493.2 989.1 1487.4 L941.9 1444 Q938.7 1440.5 938.5 1435Z" fill="#0a0a0a" stroke="none"/><path d="M944.3 1376 L1057 1340.5 L1058 1395.5 L991.7 1423.9Z" fill="#101112" stroke="none"/><path d="M1057 1340.5 L1111.8 1393 L1067 1403.5 L1058 1395.5Z" fill="#17181a" stroke="none"/><path d="M991.7 1423.9 L1058 1395.5 L1067 1403.5 L995.2 1428.2Z" fill="#202122" stroke="none"/><path d="M991 1430.8 L1115.6 1394.1 L1114.3 1447.9 Q1114.3 1451.9 1110.3 1452.9 L1000.1 1489.2 Q994.5 1490.6 991.9 1486.4Z" fill="url(#binf)" stroke="none"/><path d="M941.5 1375 L989.8 1427.8 Q991.2 1429.8 994.2 1429 L1114.3 1393.2" stroke="#3a3b3c" stroke-width="1.1"/><path d="M1058 1342 L1058 1395" stroke="#232425" stroke-width="0.9"/></g>
<g><path d="M1124.5 1351.7 L1129.5 1366.7 L1135.5 1372.5 M1158.8 1341.7 L1163.1 1355 L1170.1 1361 M1196.6 1328.3 L1201.6 1341.7 L1208.6 1347.5 M1231.2 1317.3 L1235.9 1330 L1242.2 1336" stroke="#2a2a2a" stroke-width="3.4"/><path d="M1123.5 1377 Q1123.3 1372 1128.5 1370.8 L1239.2 1335.4 Q1246.2 1333.6 1250.2 1338 L1299.2 1388.3 Q1302.2 1391.8 1302.2 1396.8 L1300.3 1446.6 Q1300.3 1452.4 1294.8 1453.8 L1185.3 1491.2 Q1178.3 1493.3 1174.3 1487.5 L1125.3 1444 Q1122.1 1440.5 1121.9 1435Z" fill="#0a0a0a" stroke="none"/><path d="M1128.5 1376 L1241.2 1340.5 L1242.2 1395.5 L1177.5 1424.4Z" fill="#101112" stroke="none"/><path d="M1241.2 1340.5 L1296.2 1393.3 L1251.2 1403.5 L1242.2 1395.5Z" fill="#17181a" stroke="none"/><path d="M1177.5 1424.4 L1242.2 1395.5 L1251.2 1403.5 L1181 1428.7Z" fill="#202122" stroke="none"/><path d="M1176.8 1431.3 L1300 1394.4 L1298.3 1447 Q1298.3 1451 1294.3 1452 L1185.3 1489.3 Q1179.7 1490.7 1177.1 1486.5Z" fill="url(#binf)" stroke="none"/><path d="M1125.7 1375 L1175.6 1428.3 Q1177 1430.3 1180 1429.5 L1298.7 1393.5" stroke="#3a3b3c" stroke-width="1.1"/><path d="M1242.2 1342 L1242.2 1395" stroke="#232425" stroke-width="0.9"/></g>
<g><path d="M1309.4 1351.7 L1314.4 1366.7 L1320.4 1372.5 M1343.4 1341.7 L1347.7 1355 L1354.7 1361 M1381.1 1328.3 L1386.1 1341.7 L1393.1 1347.5 M1415.4 1317.3 L1420.1 1330 L1426.4 1336" stroke="#2a2a2a" stroke-width="3.4"/><path d="M1307.7 1377 Q1307.5 1372 1312.7 1370.8 L1423.4 1335.4 Q1430.4 1333.6 1434.4 1338 L1483.6 1388.6 Q1486.6 1392.1 1486.6 1397.1 L1484.4 1445.8 Q1484.4 1451.6 1478.9 1453 L1370.4 1491.3 Q1363.4 1493.4 1359.4 1487.6 L1308.6 1444 Q1305.4 1440.5 1305.2 1435Z" fill="#0a0a0a" stroke="none"/><path d="M1312.7 1376 L1425.4 1340.5 L1426.4 1395.5 L1363.4 1424.8Z" fill="#101112" stroke="none"/><path d="M1425.4 1340.5 L1480.6 1393.6 L1435.4 1403.5 L1426.4 1395.5Z" fill="#17181a" stroke="none"/><path d="M1363.4 1424.8 L1426.4 1395.5 L1435.4 1403.5 L1366.9 1429.1Z" fill="#202122" stroke="none"/><path d="M1362.7 1431.7 L1484.4 1394.7 L1482.4 1446.2 Q1482.4 1450.2 1478.4 1451.2 L1370.4 1489.4 Q1364.8 1490.8 1362.2 1486.6Z" fill="url(#binf)" stroke="none"/><path d="M1309.9 1375 L1361.5 1428.7 Q1362.9 1430.7 1365.9 1429.9 L1483.1 1393.8" stroke="#3a3b3c" stroke-width="1.1"/><path d="M1426.4 1342 L1426.4 1395" stroke="#232425" stroke-width="0.9"/></g>
</svg>
</body></html>
